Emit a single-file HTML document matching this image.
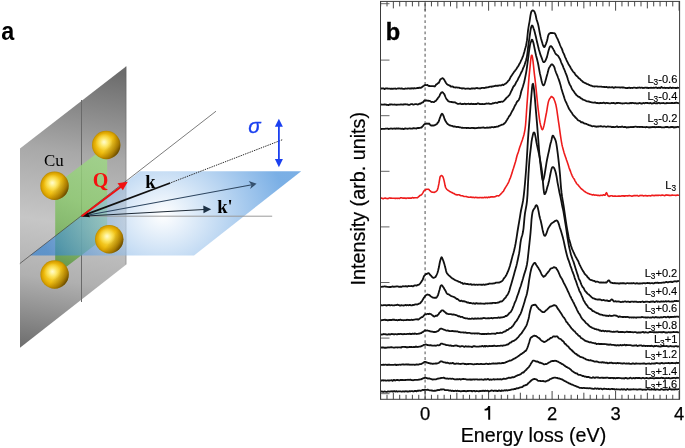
<!DOCTYPE html>
<html><head><meta charset="utf-8"><style>
html,body{margin:0;padding:0;background:#fff;}
svg{display:block;font-family:"Liberation Sans",sans-serif;will-change:transform;}
</style></head><body>
<svg width="685" height="448" viewBox="0 0 685 448">
<rect width="685" height="448" fill="#fff"/>
<defs>
<linearGradient id="gray" gradientUnits="userSpaceOnUse" x1="73" y1="66" x2="31" y2="348">
<stop offset="0" stop-color="#6c6c6c"/><stop offset="0.3" stop-color="#a8a8a8"/><stop offset="0.55" stop-color="#c6c6c6"/><stop offset="0.75" stop-color="#b0b0b0"/><stop offset="1" stop-color="#6e6e6e"/>
</linearGradient>
<radialGradient id="blue" gradientUnits="userSpaceOnUse" cx="163" cy="215" r="124" gradientTransform="translate(163 215) scale(1 0.83) translate(-163 -215)">
<stop offset="0" stop-color="#ffffff"/><stop offset="1" stop-color="#227ad4"/>
</radialGradient>
<radialGradient id="gold" cx="0.5" cy="0.5" r="0.5" fx="0.42" fy="0.4">
<stop offset="0" stop-color="#fff6b0"/><stop offset="0.3" stop-color="#f9d840"/><stop offset="0.65" stop-color="#efbe12"/><stop offset="0.88" stop-color="#daa200"/><stop offset="1" stop-color="#b88a00"/>
</radialGradient>
<linearGradient id="goldshade" x1="0.1" y1="0.2" x2="1" y2="0.8">
<stop offset="0" stop-color="#5a3c00" stop-opacity="0"/><stop offset="0.5" stop-color="#5a3c00" stop-opacity="0"/><stop offset="0.78" stop-color="#5a3c00" stop-opacity="0.4"/><stop offset="1" stop-color="#2c1e00" stop-opacity="0.85"/>
</linearGradient>
<radialGradient id="goldhl" cx="0.5" cy="0.5" r="0.5">
<stop offset="0" stop-color="#fffbd0" stop-opacity="0.9"/><stop offset="0.45" stop-color="#fff490" stop-opacity="0.55"/><stop offset="1" stop-color="#ffec70" stop-opacity="0"/>
</radialGradient>
<linearGradient id="green" gradientUnits="userSpaceOnUse" x1="107" y1="145" x2="55" y2="275">
<stop offset="0" stop-color="#a4dc8c"/><stop offset="0.45" stop-color="#8cca6e"/><stop offset="0.8" stop-color="#6aa84e"/><stop offset="1" stop-color="#46842c"/>
</linearGradient>
<marker id="ahk" viewBox="0 0 10 10" refX="9" refY="5" markerWidth="9" markerHeight="8" markerUnits="userSpaceOnUse" orient="auto"><path d="M0 0 L10 5 L0 10 Z" fill="#111"/></marker>
</defs>
<polygon points="20,148.5 126.3,66.3 126.3,264.4 20,347.8" fill="url(#gray)"/>
<line x1="126" y1="66.5" x2="126" y2="264.4" stroke="#555" stroke-width="0.6" opacity="0.6"/>
<line x1="81.5" y1="100" x2="81.5" y2="302" stroke="#6a6a6a" stroke-width="1"/>
<polygon points="55.2,185.1 107.2,145.6 107.2,235.7 55.2,275.2" fill="url(#green)" opacity="0.82"/>
<polygon points="140,171.2 301.2,171.2 194,255.6 30,255.6" fill="url(#blue)" opacity="0.6"/>
<line x1="19.8" y1="263.6" x2="216" y2="111.2" stroke="#444" stroke-width="0.7"/>
<line x1="81.6" y1="216.2" x2="272.2" y2="216.2" stroke="#9a9a9a" stroke-width="1"/>
<line x1="81.6" y1="216.2" x2="252" y2="184.8" stroke="#2e4660" stroke-width="1.1"/>
<polygon points="256.6,183.7 248.7,180.9 251.5,184.9 250.1,189" fill="#34506e"/>
<line x1="81.6" y1="216.2" x2="204" y2="209.5" stroke="#1e2a36" stroke-width="1.1"/>
<polygon points="211.2,209.3 203.3,205.4 203.5,213.2" fill="#1c3044"/>
<line x1="282.2" y1="139.8" x2="170.2" y2="183" stroke="#2a2a2a" stroke-width="1" stroke-dasharray="1.4 1"/>
<line x1="170.2" y1="183" x2="87.6" y2="213.9" stroke="#111" stroke-width="1.7"/>
<polygon points="81.5,216.2 87.6,211.8 88.4,214.2 90,217.3" fill="#0a0a0a"/>
<line x1="81.6" y1="216.2" x2="122" y2="186" stroke="#f01010" stroke-width="2"/>
<polygon points="127.8,181.8 117.5,183.2 122.8,190.2" fill="#f01010"/>
<circle cx="54.5" cy="185.8" r="14.2" fill="url(#gold)"/>
<circle cx="54.5" cy="185.8" r="14.2" fill="url(#goldshade)"/>
<circle cx="52.3" cy="182.8" r="8.5" fill="url(#goldhl)"/>
<circle cx="106.2" cy="145" r="14.2" fill="url(#gold)"/>
<circle cx="106.2" cy="145" r="14.2" fill="url(#goldshade)"/>
<circle cx="104.0" cy="142.0" r="8.5" fill="url(#goldhl)"/>
<circle cx="109.2" cy="239.2" r="14.2" fill="url(#gold)"/>
<circle cx="109.2" cy="239.2" r="14.2" fill="url(#goldshade)"/>
<circle cx="107.0" cy="236.2" r="8.5" fill="url(#goldhl)"/>
<circle cx="54.6" cy="274.5" r="14.2" fill="url(#gold)"/>
<circle cx="54.6" cy="274.5" r="14.2" fill="url(#goldshade)"/>
<circle cx="52.4" cy="271.5" r="8.5" fill="url(#goldhl)"/>
<line x1="278.9" y1="124" x2="278.9" y2="162" stroke="#1b40f0" stroke-width="1.8"/>
<polygon points="278.9,118.7 274.9,126.8 282.9,126.8" fill="#1b40f0"/>
<polygon points="278.9,167.2 274.9,159 282.9,159" fill="#1b40f0"/>
<text x="0" y="0" transform="translate(1.2 39.8) scale(0.9 1.02)" font-family="Liberation Sans" font-weight="bold" font-size="26">a</text>
<text x="43.9" y="165.6" font-family="Liberation Serif" font-size="16.9">Cu</text>
<text x="92.7" y="186.7" font-family="Liberation Serif" font-weight="bold" font-size="20" fill="#f41010">Q</text>
<text x="145.3" y="187.5" font-family="Liberation Serif" font-weight="bold" font-size="18.5">k</text>
<text x="217.2" y="212.9" font-family="Liberation Serif" font-weight="bold" font-size="18.5">k'</text>
<text x="248.3" y="133.3" font-family="Liberation Sans" font-style="italic" font-size="20.5" fill="#1b40f0" stroke="#1b40f0" stroke-width="0.3">σ</text>
<line x1="425.1" y1="1.4" x2="425.1" y2="399.3" stroke="#777" stroke-width="1.3" stroke-dasharray="2.9 2.715" stroke-dashoffset="3.69"/>
<path d="M380.65 1.4 V6.4 M380.65 399.3 V394.8 M387.00 1.4 V6.4 M387.00 399.3 V394.8 M393.35 1.4 V8.4 M393.35 399.3 V392.7 M399.70 1.4 V6.4 M399.70 399.3 V394.8 M406.05 1.4 V6.4 M406.05 399.3 V394.8 M412.40 1.4 V6.4 M412.40 399.3 V394.8 M418.75 1.4 V6.4 M418.75 399.3 V394.8 M425.10 1.4 V10.7 M425.10 399.3 V391.0 M431.45 1.4 V6.4 M431.45 399.3 V394.8 M437.80 1.4 V6.4 M437.80 399.3 V394.8 M444.15 1.4 V6.4 M444.15 399.3 V394.8 M450.50 1.4 V6.4 M450.50 399.3 V394.8 M456.85 1.4 V8.4 M456.85 399.3 V392.7 M463.20 1.4 V6.4 M463.20 399.3 V394.8 M469.55 1.4 V6.4 M469.55 399.3 V394.8 M475.90 1.4 V6.4 M475.90 399.3 V394.8 M482.25 1.4 V6.4 M482.25 399.3 V394.8 M488.60 1.4 V10.7 M488.60 399.3 V391.0 M494.95 1.4 V6.4 M494.95 399.3 V394.8 M501.30 1.4 V6.4 M501.30 399.3 V394.8 M507.65 1.4 V6.4 M507.65 399.3 V394.8 M514.00 1.4 V6.4 M514.00 399.3 V394.8 M520.35 1.4 V8.4 M520.35 399.3 V392.7 M526.70 1.4 V6.4 M526.70 399.3 V394.8 M533.05 1.4 V6.4 M533.05 399.3 V394.8 M539.40 1.4 V6.4 M539.40 399.3 V394.8 M545.75 1.4 V6.4 M545.75 399.3 V394.8 M552.10 1.4 V10.7 M552.10 399.3 V391.0 M558.45 1.4 V6.4 M558.45 399.3 V394.8 M564.80 1.4 V6.4 M564.80 399.3 V394.8 M571.15 1.4 V6.4 M571.15 399.3 V394.8 M577.50 1.4 V6.4 M577.50 399.3 V394.8 M583.85 1.4 V8.4 M583.85 399.3 V392.7 M590.20 1.4 V6.4 M590.20 399.3 V394.8 M596.55 1.4 V6.4 M596.55 399.3 V394.8 M602.90 1.4 V6.4 M602.90 399.3 V394.8 M609.25 1.4 V6.4 M609.25 399.3 V394.8 M615.60 1.4 V10.7 M615.60 399.3 V391.0 M621.95 1.4 V6.4 M621.95 399.3 V394.8 M628.30 1.4 V6.4 M628.30 399.3 V394.8 M634.65 1.4 V6.4 M634.65 399.3 V394.8 M641.00 1.4 V6.4 M641.00 399.3 V394.8 M647.35 1.4 V8.4 M647.35 399.3 V392.7 M653.70 1.4 V6.4 M653.70 399.3 V394.8 M660.05 1.4 V6.4 M660.05 399.3 V394.8 M666.40 1.4 V6.4 M666.40 399.3 V394.8 M672.75 1.4 V6.4 M672.75 399.3 V394.8 M679.10 1.4 V10.7 M679.10 399.3 V391.0" stroke="#333" stroke-width="0.9" fill="none"/>
<path d="M380.5 3.7 H389.5 M380.5 60.1 H389.5 M380.5 115.7 H389.5 M380.5 171.3 H389.5 M380.5 226.9 H389.5 M380.5 282.5 H389.5 M380.5 338.1 H389.5 M380.5 393.7 H389.5" stroke="#555" stroke-width="0.9" fill="none"/>
<path d="M380.5 88.4 L381.0 88.4 L381.5 88.5 L382.0 88.5 L382.5 88.4 L383.0 88.3 L383.5 88.3 L384.0 88.7 L384.5 89.1 L385.0 88.9 L385.5 88.5 L386.0 88.5 L386.5 88.4 L387.0 88.4 L387.5 88.5 L388.0 88.6 L388.5 88.7 L389.0 88.7 L389.5 88.6 L390.0 88.7 L390.5 88.9 L391.0 88.8 L391.5 88.6 L392.0 88.6 L392.5 88.8 L393.0 88.9 L393.5 88.7 L394.0 88.6 L394.5 88.7 L395.0 88.5 L395.5 88.6 L396.0 88.8 L396.5 88.8 L397.0 88.7 L397.5 88.5 L398.0 88.3 L398.5 88.5 L399.0 88.4 L399.5 88.3 L400.0 88.6 L400.5 88.7 L401.0 88.5 L401.5 88.4 L402.0 88.5 L402.5 88.7 L403.0 88.9 L403.5 88.8 L404.0 88.8 L404.5 88.8 L405.0 88.6 L405.5 88.5 L406.0 88.7 L406.5 88.7 L407.0 88.6 L407.5 88.5 L408.0 88.4 L408.5 88.3 L409.0 88.6 L409.5 88.6 L410.0 88.4 L410.5 88.4 L411.0 88.5 L411.5 88.5 L412.0 88.2 L412.5 88.3 L413.0 88.6 L413.5 88.5 L414.0 88.2 L414.5 88.2 L415.0 88.3 L415.5 88.3 L416.0 88.3 L416.5 88.2 L417.0 88.0 L417.5 88.0 L418.0 88.1 L418.5 88.0 L419.0 87.7 L419.5 87.6 L420.0 87.8 L420.5 87.8 L421.0 87.6 L421.5 87.5 L422.0 87.1 L422.5 86.7 L423.0 86.3 L423.5 86.0 L424.0 85.7 L424.5 85.2 L425.0 84.9 L425.5 85.0 L426.0 85.2 L426.5 85.2 L427.0 85.0 L427.5 85.0 L428.0 85.5 L428.5 85.9 L429.0 86.0 L429.5 86.0 L430.0 86.1 L430.5 86.2 L431.0 86.2 L431.5 86.2 L432.0 86.1 L432.5 86.1 L433.0 86.2 L433.5 86.2 L434.0 86.3 L434.5 86.5 L435.0 86.3 L435.5 85.6 L436.0 84.7 L436.5 84.3 L437.0 84.1 L437.5 83.7 L438.0 83.2 L438.5 83.0 L439.0 82.5 L439.5 81.3 L440.0 80.1 L440.5 79.3 L441.0 79.0 L441.5 78.7 L442.0 78.4 L442.5 78.2 L443.0 78.3 L443.5 78.8 L444.0 79.5 L444.5 80.2 L445.0 81.2 L445.5 82.1 L446.0 82.9 L446.5 83.6 L447.0 84.3 L447.5 84.6 L448.0 84.8 L448.5 85.0 L449.0 85.4 L449.5 85.5 L450.0 85.7 L450.5 86.3 L451.0 86.7 L451.5 86.6 L452.0 86.5 L452.5 86.5 L453.0 86.7 L453.5 87.1 L454.0 87.3 L454.5 87.3 L455.0 87.4 L455.5 87.5 L456.0 87.4 L456.5 87.3 L457.0 87.5 L457.5 87.6 L458.0 87.6 L458.5 87.6 L459.0 87.7 L459.5 87.9 L460.0 88.1 L460.5 88.1 L461.0 88.2 L461.5 88.4 L462.0 88.5 L462.5 88.5 L463.0 88.2 L463.5 88.3 L464.0 88.4 L464.5 88.5 L465.0 88.7 L465.5 88.8 L466.0 88.7 L466.5 88.7 L467.0 88.7 L467.5 88.6 L468.0 88.5 L468.5 88.6 L469.0 88.6 L469.5 88.8 L470.0 88.9 L470.5 88.9 L471.0 88.6 L471.5 88.4 L472.0 88.5 L472.5 88.5 L473.0 88.4 L473.5 88.4 L474.0 88.5 L474.5 88.6 L475.0 88.5 L475.5 88.4 L476.0 88.2 L476.5 88.1 L477.0 88.0 L477.5 88.1 L478.0 88.3 L478.5 88.4 L479.0 88.4 L479.5 88.4 L480.0 88.5 L480.5 88.4 L481.0 88.2 L481.5 88.0 L482.0 87.9 L482.5 87.9 L483.0 87.8 L483.5 87.9 L484.0 88.0 L484.5 88.0 L485.0 87.8 L485.5 87.6 L486.0 87.5 L486.5 87.5 L487.0 87.4 L487.5 87.3 L488.0 87.3 L488.5 87.1 L489.0 87.0 L489.5 86.8 L490.0 86.6 L490.5 86.6 L491.0 86.7 L491.5 86.9 L492.0 86.7 L492.5 86.3 L493.0 86.3 L493.5 86.3 L494.0 86.1 L494.5 86.1 L495.0 85.9 L495.5 85.7 L496.0 85.8 L496.5 85.9 L497.0 85.7 L497.5 85.6 L498.0 85.8 L498.5 85.7 L499.0 85.4 L499.5 85.3 L500.0 85.3 L500.5 85.4 L501.0 85.5 L501.5 85.2 L502.0 84.9 L502.5 84.7 L503.0 84.9 L503.5 85.0 L504.0 84.6 L504.5 84.2 L505.0 83.9 L505.5 83.7 L506.0 83.4 L506.5 82.8 L507.0 82.3 L507.5 81.8 L508.0 81.2 L508.5 80.7 L509.0 80.2 L509.5 79.4 L510.0 78.3 L510.5 77.3 L511.0 76.4 L511.5 75.7 L512.0 75.0 L512.5 74.2 L513.0 73.5 L513.5 72.8 L514.0 72.0 L514.5 71.4 L515.0 70.8 L515.5 70.1 L516.0 69.5 L516.5 68.8 L517.0 67.9 L517.5 67.1 L518.0 66.5 L518.5 65.8 L519.0 64.7 L519.5 63.7 L520.0 62.9 L520.5 61.8 L521.0 60.6 L521.5 59.7 L522.0 58.6 L522.5 57.3 L523.0 56.1 L523.5 54.6 L524.0 52.9 L524.5 51.2 L525.0 49.3 L525.5 47.6 L526.0 45.7 L526.5 43.1 L527.0 40.2 L527.5 35.6 L528.0 30.6 L528.5 27.3 L529.0 24.4 L529.5 21.8 L530.0 18.5 L530.5 15.2 L531.0 12.8 L531.5 11.3 L532.0 10.8 L532.5 10.3 L533.0 10.4 L533.5 10.8 L534.0 11.1 L534.5 11.8 L535.0 13.1 L535.5 14.5 L536.0 16.8 L536.5 19.2 L537.0 20.7 L537.5 22.2 L538.0 23.9 L538.5 26.1 L539.0 28.7 L539.5 31.5 L540.0 34.0 L540.5 36.4 L541.0 38.4 L541.5 40.2 L542.0 41.9 L542.5 43.6 L543.0 45.1 L543.5 46.3 L544.0 47.0 L544.5 47.1 L545.0 46.3 L545.5 45.0 L546.0 43.8 L546.5 42.4 L547.0 40.8 L547.5 38.7 L548.0 36.3 L548.5 34.8 L549.0 34.0 L549.5 33.5 L550.0 33.4 L550.5 33.0 L551.0 32.9 L551.5 33.0 L552.0 32.9 L552.5 33.0 L553.0 33.2 L553.5 33.2 L554.0 33.1 L554.5 33.3 L555.0 33.7 L555.5 34.5 L556.0 35.6 L556.5 36.8 L557.0 37.9 L557.5 38.8 L558.0 39.8 L558.5 41.1 L559.0 42.3 L559.5 43.5 L560.0 44.8 L560.5 46.0 L561.0 47.1 L561.5 48.1 L562.0 49.1 L562.5 50.6 L563.0 52.1 L563.5 53.2 L564.0 54.2 L564.5 55.4 L565.0 56.8 L565.5 57.9 L566.0 58.9 L566.5 60.1 L567.0 61.2 L567.5 62.1 L568.0 63.1 L568.5 64.2 L569.0 65.1 L569.5 65.8 L570.0 66.5 L570.5 67.5 L571.0 68.4 L571.5 69.2 L572.0 70.0 L572.5 70.8 L573.0 71.5 L573.5 72.1 L574.0 72.5 L574.5 73.0 L575.0 73.9 L575.5 74.7 L576.0 75.3 L576.5 75.8 L577.0 76.2 L577.5 76.6 L578.0 77.3 L578.5 78.0 L579.0 78.4 L579.5 78.6 L580.0 78.9 L580.5 79.6 L581.0 80.3 L581.5 80.6 L582.0 80.9 L582.5 81.5 L583.0 82.0 L583.5 82.2 L584.0 82.5 L584.5 82.8 L585.0 83.1 L585.5 83.2 L586.0 83.4 L586.5 83.8 L587.0 84.1 L587.5 84.2 L588.0 84.2 L588.5 84.6 L589.0 84.9 L589.5 85.0 L590.0 85.3 L590.5 85.6 L591.0 85.7 L591.5 85.7 L592.0 85.9 L592.5 86.2 L593.0 86.4 L593.5 86.4 L594.0 86.4 L594.5 86.5 L595.0 86.5 L595.5 86.3 L596.0 86.3 L596.5 86.4 L597.0 86.4 L597.5 86.5 L598.0 86.7 L598.5 86.7 L599.0 86.7 L599.5 86.7 L600.0 86.6 L600.5 86.7 L601.0 86.6 L601.5 86.6 L602.0 86.9 L602.5 86.9 L603.0 86.8 L603.5 86.9 L604.0 87.0 L604.5 87.0 L605.0 87.1 L605.5 87.1 L606.0 87.0 L606.5 86.9 L607.0 87.1 L607.5 87.3 L608.0 87.5 L608.5 87.4 L609.0 87.2 L609.5 87.2 L610.0 87.3 L610.5 87.3 L611.0 87.4 L611.5 87.4 L612.0 87.2 L612.5 87.2 L613.0 87.4 L613.5 87.8 L614.0 87.9 L614.5 87.5 L615.0 87.2 L615.5 87.1 L616.0 87.3 L616.5 87.4 L617.0 87.3 L617.5 87.4 L618.0 87.3 L618.5 87.4 L619.0 87.4 L619.5 87.4 L620.0 87.6 L620.5 87.7 L621.0 87.3 L621.5 87.3 L622.0 87.6 L622.5 87.5 L623.0 87.4 L623.5 87.5 L624.0 87.6 L624.5 87.7 L625.0 87.8 L625.5 87.9 L626.0 88.1 L626.5 88.1 L627.0 88.0 L627.5 88.0 L628.0 88.0 L628.5 87.8 L629.0 87.6 L629.5 87.7 L630.0 87.9 L630.5 88.0 L631.0 87.9 L631.5 87.8 L632.0 87.9 L632.5 88.0 L633.0 87.8 L633.5 87.7 L634.0 87.7 L634.5 87.7 L635.0 87.7 L635.5 87.8 L636.0 87.9 L636.5 88.0 L637.0 87.8 L637.5 87.7 L638.0 87.8 L638.5 87.7 L639.0 87.6 L639.5 87.5 L640.0 87.7 L640.5 87.8 L641.0 87.7 L641.5 87.6 L642.0 87.6 L642.5 87.9 L643.0 88.0 L643.5 87.9 L644.0 87.8 L644.5 87.8 L645.0 87.6 L645.5 87.6 L646.0 87.7 L646.5 87.8 L647.0 87.7 L647.5 87.7 L648.0 88.0 L648.5 88.1 L649.0 87.9 L649.5 87.8 L650.0 87.9 L650.5 87.8 L651.0 87.7 L651.5 87.9 L652.0 87.9 L652.5 87.9 L653.0 87.9 L653.5 87.7 L654.0 87.8 L654.5 87.8 L655.0 87.7 L655.5 87.6 L656.0 87.5 L656.5 87.6 L657.0 87.9 L657.5 88.0 L658.0 87.9 L658.5 87.9 L659.0 87.7 L659.5 87.8 L660.0 88.1 L660.5 87.9 L661.0 87.3 L661.5 87.0 L662.0 87.5 L662.5 87.8 L663.0 87.8 L663.5 87.8 L664.0 87.8 L664.5 87.7 L665.0 87.8 L665.5 88.0 L666.0 88.0 L666.5 87.8 L667.0 87.8 L667.5 87.8 L668.0 87.9 L668.5 88.2 L669.0 88.2 L669.5 87.7 L670.0 87.4 L670.5 87.6 L671.0 87.9 L671.5 88.1 L672.0 88.0 L672.5 87.7 L673.0 87.7 L673.5 87.8 L674.0 87.8 L674.5 87.9 L675.0 87.9 L675.5 88.0 L676.0 88.0 L676.5 88.0 L677.0 87.9 L677.5 87.7 L678.0 87.8 L678.5 87.8 L679.0 87.9" fill="none" stroke="#111" stroke-width="1.8" stroke-linejoin="round"/>
<path d="M380.5 104.4 L381.0 104.4 L381.5 104.6 L382.0 104.6 L382.5 104.6 L383.0 104.7 L383.5 104.7 L384.0 104.5 L384.5 104.4 L385.0 104.6 L385.5 104.6 L386.0 104.5 L386.5 104.8 L387.0 105.0 L387.5 104.8 L388.0 104.9 L388.5 105.1 L389.0 104.9 L389.5 104.5 L390.0 104.5 L390.5 104.6 L391.0 104.4 L391.5 104.3 L392.0 104.5 L392.5 104.6 L393.0 104.6 L393.5 104.6 L394.0 104.7 L394.5 104.5 L395.0 104.5 L395.5 104.7 L396.0 104.8 L396.5 104.7 L397.0 104.8 L397.5 104.7 L398.0 104.6 L398.5 104.7 L399.0 104.6 L399.5 104.6 L400.0 104.6 L400.5 104.5 L401.0 104.3 L401.5 104.4 L402.0 104.7 L402.5 104.7 L403.0 104.5 L403.5 104.5 L404.0 104.5 L404.5 104.3 L405.0 104.2 L405.5 104.4 L406.0 104.3 L406.5 104.4 L407.0 104.4 L407.5 104.5 L408.0 104.6 L408.5 104.8 L409.0 104.9 L409.5 104.8 L410.0 104.6 L410.5 104.3 L411.0 104.2 L411.5 104.1 L412.0 104.1 L412.5 104.2 L413.0 104.6 L413.5 104.7 L414.0 104.5 L414.5 104.3 L415.0 104.2 L415.5 104.2 L416.0 104.2 L416.5 104.2 L417.0 104.3 L417.5 104.5 L418.0 104.4 L418.5 104.3 L419.0 103.9 L419.5 103.7 L420.0 103.9 L420.5 103.7 L421.0 103.3 L421.5 102.9 L422.0 102.6 L422.5 102.5 L423.0 102.3 L423.5 101.7 L424.0 101.0 L424.5 100.5 L425.0 100.5 L425.5 100.6 L426.0 100.6 L426.5 100.4 L427.0 100.5 L427.5 100.7 L428.0 100.8 L428.5 100.7 L429.0 100.8 L429.5 100.8 L430.0 101.1 L430.5 101.4 L431.0 101.7 L431.5 102.0 L432.0 101.9 L432.5 101.8 L433.0 102.0 L433.5 102.2 L434.0 102.1 L434.5 101.6 L435.0 101.2 L435.5 101.1 L436.0 100.7 L436.5 100.0 L437.0 99.4 L437.5 98.8 L438.0 97.8 L438.5 97.3 L439.0 96.9 L439.5 95.9 L440.0 94.6 L440.5 93.7 L441.0 93.0 L441.5 92.5 L442.0 92.2 L442.5 92.2 L443.0 92.6 L443.5 93.3 L444.0 93.8 L444.5 94.6 L445.0 95.8 L445.5 97.0 L446.0 98.1 L446.5 99.0 L447.0 99.6 L447.5 100.2 L448.0 100.8 L448.5 101.3 L449.0 101.6 L449.5 101.7 L450.0 101.8 L450.5 101.8 L451.0 101.9 L451.5 102.0 L452.0 102.0 L452.5 102.2 L453.0 102.4 L453.5 102.3 L454.0 102.2 L454.5 102.3 L455.0 102.4 L455.5 102.6 L456.0 102.9 L456.5 103.2 L457.0 103.5 L457.5 103.8 L458.0 103.9 L458.5 103.9 L459.0 103.8 L459.5 103.7 L460.0 103.6 L460.5 103.5 L461.0 103.9 L461.5 104.2 L462.0 104.1 L462.5 104.0 L463.0 104.1 L463.5 104.0 L464.0 103.8 L464.5 103.7 L465.0 103.7 L465.5 104.0 L466.0 104.3 L466.5 104.0 L467.0 103.8 L467.5 103.8 L468.0 103.8 L468.5 103.7 L469.0 103.9 L469.5 104.1 L470.0 104.1 L470.5 104.0 L471.0 103.7 L471.5 103.7 L472.0 104.1 L472.5 104.1 L473.0 103.9 L473.5 103.9 L474.0 104.1 L474.5 104.1 L475.0 104.0 L475.5 104.0 L476.0 104.0 L476.5 104.0 L477.0 103.9 L477.5 103.5 L478.0 103.4 L478.5 103.5 L479.0 103.7 L479.5 104.0 L480.0 104.1 L480.5 104.1 L481.0 104.0 L481.5 104.1 L482.0 104.1 L482.5 104.0 L483.0 104.1 L483.5 104.1 L484.0 104.1 L484.5 104.1 L485.0 103.9 L485.5 103.9 L486.0 103.7 L486.5 103.5 L487.0 103.6 L487.5 103.6 L488.0 103.6 L488.5 103.5 L489.0 103.5 L489.5 103.8 L490.0 103.9 L490.5 103.8 L491.0 103.8 L491.5 103.8 L492.0 103.7 L492.5 103.4 L493.0 103.2 L493.5 103.3 L494.0 103.2 L494.5 102.9 L495.0 102.8 L495.5 102.7 L496.0 102.7 L496.5 102.8 L497.0 103.0 L497.5 102.8 L498.0 102.3 L498.5 102.1 L499.0 102.0 L499.5 101.9 L500.0 102.0 L500.5 102.0 L501.0 101.7 L501.5 101.6 L502.0 101.7 L502.5 101.8 L503.0 101.5 L503.5 101.1 L504.0 100.7 L504.5 100.2 L505.0 99.6 L505.5 99.0 L506.0 98.5 L506.5 97.8 L507.0 97.3 L507.5 97.0 L508.0 96.6 L508.5 95.9 L509.0 95.4 L509.5 94.8 L510.0 93.9 L510.5 92.8 L511.0 91.7 L511.5 90.7 L512.0 89.8 L512.5 88.7 L513.0 87.4 L513.5 86.5 L514.0 86.0 L514.5 85.5 L515.0 84.7 L515.5 83.8 L516.0 82.7 L516.5 81.7 L517.0 81.0 L517.5 80.2 L518.0 79.1 L518.5 78.0 L519.0 77.1 L519.5 76.2 L520.0 75.2 L520.5 74.1 L521.0 73.0 L521.5 72.0 L522.0 71.1 L522.5 69.9 L523.0 68.6 L523.5 67.4 L524.0 66.3 L524.5 65.1 L525.0 63.5 L525.5 61.9 L526.0 60.5 L526.5 58.6 L527.0 56.1 L527.5 52.5 L528.0 48.2 L528.5 44.4 L529.0 40.8 L529.5 37.3 L530.0 33.8 L530.5 30.2 L531.0 27.8 L531.5 26.2 L532.0 25.4 L532.5 25.7 L533.0 26.9 L533.5 28.3 L534.0 29.6 L534.5 31.3 L535.0 33.3 L535.5 35.3 L536.0 37.3 L536.5 39.6 L537.0 41.7 L537.5 43.7 L538.0 45.9 L538.5 48.1 L539.0 50.0 L539.5 51.5 L540.0 53.2 L540.5 54.9 L541.0 56.2 L541.5 57.4 L542.0 58.8 L542.5 60.2 L543.0 61.5 L543.5 62.1 L544.0 62.1 L544.5 61.9 L545.0 61.4 L545.5 60.5 L546.0 59.3 L546.5 58.2 L547.0 56.9 L547.5 54.9 L548.0 52.7 L548.5 50.8 L549.0 49.2 L549.5 47.5 L550.0 46.6 L550.5 46.1 L551.0 46.1 L551.5 46.4 L552.0 47.1 L552.5 47.9 L553.0 48.6 L553.5 49.6 L554.0 50.5 L554.5 51.5 L555.0 52.6 L555.5 53.6 L556.0 54.2 L556.5 54.6 L557.0 55.0 L557.5 55.4 L558.0 55.8 L558.5 56.5 L559.0 57.4 L559.5 58.3 L560.0 59.1 L560.5 60.3 L561.0 61.8 L561.5 63.1 L562.0 64.1 L562.5 65.2 L563.0 66.4 L563.5 67.8 L564.0 68.9 L564.5 70.0 L565.0 71.3 L565.5 72.6 L566.0 73.8 L566.5 75.1 L567.0 76.4 L567.5 78.0 L568.0 79.7 L568.5 81.2 L569.0 82.6 L569.5 84.0 L570.0 84.9 L570.5 85.7 L571.0 86.7 L571.5 87.9 L572.0 88.9 L572.5 89.7 L573.0 90.4 L573.5 91.0 L574.0 91.7 L574.5 92.5 L575.0 93.3 L575.5 93.8 L576.0 94.4 L576.5 95.2 L577.0 95.5 L577.5 95.9 L578.0 96.5 L578.5 96.9 L579.0 96.9 L579.5 96.9 L580.0 97.5 L580.5 98.1 L581.0 98.3 L581.5 98.4 L582.0 98.7 L582.5 99.4 L583.0 99.7 L583.5 99.7 L584.0 100.0 L584.5 100.2 L585.0 100.3 L585.5 100.5 L586.0 100.9 L586.5 101.2 L587.0 101.3 L587.5 101.3 L588.0 101.4 L588.5 101.5 L589.0 101.5 L589.5 101.7 L590.0 102.0 L590.5 102.1 L591.0 102.2 L591.5 102.3 L592.0 102.3 L592.5 102.5 L593.0 102.7 L593.5 102.7 L594.0 102.7 L594.5 102.5 L595.0 102.4 L595.5 102.6 L596.0 102.8 L596.5 103.0 L597.0 103.0 L597.5 102.9 L598.0 103.0 L598.5 103.2 L599.0 103.3 L599.5 103.1 L600.0 103.0 L600.5 103.0 L601.0 103.0 L601.5 103.1 L602.0 103.1 L602.5 103.0 L603.0 102.8 L603.5 102.6 L604.0 102.6 L604.5 103.0 L605.0 103.3 L605.5 103.3 L606.0 102.9 L606.5 102.8 L607.0 103.1 L607.5 103.1 L608.0 103.0 L608.5 103.2 L609.0 103.3 L609.5 103.3 L610.0 103.3 L610.5 103.3 L611.0 103.2 L611.5 103.0 L612.0 103.0 L612.5 103.1 L613.0 103.1 L613.5 102.9 L614.0 102.9 L614.5 103.2 L615.0 103.5 L615.5 103.5 L616.0 103.3 L616.5 103.0 L617.0 102.9 L617.5 103.0 L618.0 103.0 L618.5 102.8 L619.0 103.0 L619.5 103.1 L620.0 103.1 L620.5 103.2 L621.0 103.4 L621.5 103.4 L622.0 103.4 L622.5 103.5 L623.0 103.4 L623.5 103.3 L624.0 103.3 L624.5 103.3 L625.0 103.2 L625.5 103.1 L626.0 103.2 L626.5 103.2 L627.0 103.3 L627.5 103.4 L628.0 103.3 L628.5 103.3 L629.0 103.4 L629.5 103.3 L630.0 102.9 L630.5 103.0 L631.0 103.3 L631.5 103.2 L632.0 102.8 L632.5 102.8 L633.0 103.0 L633.5 103.1 L634.0 103.2 L634.5 103.3 L635.0 103.2 L635.5 103.1 L636.0 103.4 L636.5 103.5 L637.0 103.3 L637.5 103.4 L638.0 103.5 L638.5 103.4 L639.0 103.2 L639.5 103.0 L640.0 103.0 L640.5 103.3 L641.0 103.5 L641.5 103.5 L642.0 103.5 L642.5 103.4 L643.0 103.1 L643.5 103.0 L644.0 103.2 L644.5 103.3 L645.0 103.1 L645.5 102.9 L646.0 102.9 L646.5 102.9 L647.0 103.0 L647.5 103.0 L648.0 103.1 L648.5 103.2 L649.0 103.3 L649.5 103.3 L650.0 103.0 L650.5 102.9 L651.0 103.3 L651.5 103.6 L652.0 103.5 L652.5 103.4 L653.0 103.3 L653.5 103.1 L654.0 103.0 L654.5 103.0 L655.0 103.2 L655.5 103.3 L656.0 103.3 L656.5 103.1 L657.0 103.1 L657.5 103.3 L658.0 103.1 L658.5 102.8 L659.0 102.8 L659.5 103.1 L660.0 103.4 L660.5 103.4 L661.0 103.2 L661.5 103.2 L662.0 103.2 L662.5 103.2 L663.0 103.0 L663.5 103.0 L664.0 103.2 L664.5 103.3 L665.0 103.3 L665.5 103.4 L666.0 103.4 L666.5 103.1 L667.0 102.9 L667.5 103.2 L668.0 103.2 L668.5 103.1 L669.0 103.1 L669.5 103.1 L670.0 103.1 L670.5 103.1 L671.0 103.1 L671.5 102.9 L672.0 102.9 L672.5 103.0 L673.0 103.1 L673.5 103.1 L674.0 103.1 L674.5 103.0 L675.0 103.0 L675.5 102.9 L676.0 102.7 L676.5 102.7 L677.0 102.8 L677.5 102.9 L678.0 103.1 L678.5 103.2 L679.0 103.3" fill="none" stroke="#111" stroke-width="1.8" stroke-linejoin="round"/>
<path d="M380.5 128.9 L381.0 129.0 L381.5 129.0 L382.0 128.8 L382.5 128.8 L383.0 128.9 L383.5 128.9 L384.0 128.9 L384.5 128.9 L385.0 128.8 L385.5 128.7 L386.0 128.7 L386.5 128.7 L387.0 128.7 L387.5 128.5 L388.0 128.7 L388.5 129.0 L389.0 128.9 L389.5 128.8 L390.0 128.7 L390.5 128.6 L391.0 128.5 L391.5 128.6 L392.0 128.7 L392.5 128.8 L393.0 128.7 L393.5 128.7 L394.0 128.5 L394.5 128.5 L395.0 128.7 L395.5 128.8 L396.0 128.5 L396.5 128.4 L397.0 128.6 L397.5 128.6 L398.0 128.4 L398.5 128.4 L399.0 128.5 L399.5 128.7 L400.0 128.7 L400.5 128.7 L401.0 128.9 L401.5 128.8 L402.0 128.7 L402.5 128.7 L403.0 128.9 L403.5 129.1 L404.0 129.0 L404.5 128.6 L405.0 128.5 L405.5 128.5 L406.0 128.6 L406.5 128.7 L407.0 128.7 L407.5 128.8 L408.0 128.7 L408.5 128.7 L409.0 128.6 L409.5 128.3 L410.0 128.4 L410.5 128.6 L411.0 128.6 L411.5 128.6 L412.0 128.6 L412.5 128.5 L413.0 128.4 L413.5 128.1 L414.0 128.2 L414.5 128.4 L415.0 128.3 L415.5 128.3 L416.0 128.6 L416.5 128.5 L417.0 128.2 L417.5 128.0 L418.0 128.0 L418.5 127.9 L419.0 128.0 L419.5 127.9 L420.0 127.8 L420.5 127.7 L421.0 127.6 L421.5 127.5 L422.0 127.0 L422.5 126.4 L423.0 126.0 L423.5 125.3 L424.0 124.6 L424.5 124.3 L425.0 123.9 L425.5 123.9 L426.0 123.9 L426.5 123.6 L427.0 123.5 L427.5 123.7 L428.0 123.9 L428.5 123.7 L429.0 123.5 L429.5 123.9 L430.0 124.6 L430.5 125.2 L431.0 125.5 L431.5 125.5 L432.0 125.6 L432.5 125.5 L433.0 125.6 L433.5 125.5 L434.0 125.4 L434.5 125.3 L435.0 125.1 L435.5 124.7 L436.0 124.5 L436.5 124.3 L437.0 123.8 L437.5 123.0 L438.0 122.5 L438.5 121.9 L439.0 120.7 L439.5 119.0 L440.0 117.6 L440.5 116.4 L441.0 115.1 L441.5 114.1 L442.0 113.7 L442.5 114.0 L443.0 114.9 L443.5 115.9 L444.0 117.3 L444.5 118.9 L445.0 120.1 L445.5 120.9 L446.0 121.7 L446.5 122.6 L447.0 123.3 L447.5 123.8 L448.0 124.3 L448.5 124.6 L449.0 124.9 L449.5 125.3 L450.0 125.4 L450.5 125.5 L451.0 125.7 L451.5 125.8 L452.0 125.8 L452.5 126.1 L453.0 126.4 L453.5 126.5 L454.0 126.5 L454.5 126.5 L455.0 126.6 L455.5 126.6 L456.0 126.8 L456.5 127.0 L457.0 127.0 L457.5 126.9 L458.0 126.9 L458.5 127.0 L459.0 127.2 L459.5 127.4 L460.0 127.3 L460.5 127.3 L461.0 127.5 L461.5 127.8 L462.0 127.8 L462.5 127.7 L463.0 127.8 L463.5 127.8 L464.0 127.8 L464.5 127.9 L465.0 127.9 L465.5 127.9 L466.0 127.9 L466.5 128.0 L467.0 128.0 L467.5 127.9 L468.0 127.8 L468.5 127.9 L469.0 128.1 L469.5 128.2 L470.0 128.2 L470.5 128.2 L471.0 128.0 L471.5 127.9 L472.0 127.9 L472.5 127.9 L473.0 128.0 L473.5 128.1 L474.0 128.0 L474.5 128.1 L475.0 128.3 L475.5 128.2 L476.0 128.1 L476.5 128.1 L477.0 128.0 L477.5 127.9 L478.0 127.8 L478.5 127.7 L479.0 127.9 L479.5 127.8 L480.0 127.7 L480.5 127.9 L481.0 127.8 L481.5 127.7 L482.0 127.7 L482.5 127.6 L483.0 127.5 L483.5 127.5 L484.0 127.6 L484.5 127.8 L485.0 127.8 L485.5 127.8 L486.0 127.9 L486.5 127.7 L487.0 127.5 L487.5 127.6 L488.0 127.8 L488.5 127.7 L489.0 127.6 L489.5 127.5 L490.0 127.5 L490.5 127.5 L491.0 127.4 L491.5 127.2 L492.0 127.1 L492.5 127.1 L493.0 127.2 L493.5 127.3 L494.0 127.3 L494.5 127.0 L495.0 126.9 L495.5 127.0 L496.0 126.8 L496.5 126.6 L497.0 126.6 L497.5 126.7 L498.0 126.6 L498.5 126.1 L499.0 125.9 L499.5 125.8 L500.0 125.5 L500.5 125.3 L501.0 125.1 L501.5 124.8 L502.0 124.6 L502.5 124.6 L503.0 124.6 L503.5 124.3 L504.0 123.7 L504.5 123.3 L505.0 122.8 L505.5 122.3 L506.0 121.5 L506.5 120.6 L507.0 119.9 L507.5 119.1 L508.0 118.3 L508.5 117.4 L509.0 116.4 L509.5 115.8 L510.0 115.2 L510.5 114.4 L511.0 113.4 L511.5 112.4 L512.0 111.4 L512.5 110.5 L513.0 109.7 L513.5 108.8 L514.0 107.7 L514.5 106.5 L515.0 105.6 L515.5 104.8 L516.0 103.8 L516.5 102.7 L517.0 101.8 L517.5 101.2 L518.0 100.8 L518.5 100.3 L519.0 99.4 L519.5 98.1 L520.0 96.6 L520.5 94.7 L521.0 92.5 L521.5 90.6 L522.0 89.2 L522.5 87.8 L523.0 86.3 L523.5 84.6 L524.0 82.8 L524.5 80.7 L525.0 78.4 L525.5 75.9 L526.0 73.3 L526.5 70.3 L527.0 66.9 L527.5 63.2 L528.0 59.5 L528.5 55.6 L529.0 51.5 L529.5 48.2 L530.0 45.1 L530.5 42.9 L531.0 41.6 L531.5 40.2 L532.0 39.6 L532.5 40.2 L533.0 41.6 L533.5 43.3 L534.0 45.6 L534.5 48.1 L535.0 50.5 L535.5 53.0 L536.0 55.3 L536.5 57.2 L537.0 59.1 L537.5 61.1 L538.0 63.3 L538.5 65.8 L539.0 68.6 L539.5 71.3 L540.0 73.9 L540.5 76.0 L541.0 78.1 L541.5 80.5 L542.0 82.5 L542.5 84.1 L543.0 85.1 L543.5 85.4 L544.0 85.1 L544.5 84.1 L545.0 82.5 L545.5 80.7 L546.0 78.9 L546.5 77.0 L547.0 75.2 L547.5 73.5 L548.0 71.6 L548.5 69.5 L549.0 67.9 L549.5 67.2 L550.0 66.5 L550.5 65.6 L551.0 64.9 L551.5 64.4 L552.0 64.3 L552.5 64.6 L553.0 65.1 L553.5 65.8 L554.0 66.5 L554.5 67.7 L555.0 69.5 L555.5 71.1 L556.0 72.5 L556.5 73.7 L557.0 74.8 L557.5 76.0 L558.0 77.5 L558.5 78.8 L559.0 80.1 L559.5 81.6 L560.0 83.2 L560.5 84.9 L561.0 86.9 L561.5 89.0 L562.0 90.6 L562.5 92.2 L563.0 93.7 L563.5 95.2 L564.0 96.8 L564.5 98.5 L565.0 99.9 L565.5 101.1 L566.0 102.1 L566.5 103.2 L567.0 104.3 L567.5 105.3 L568.0 106.5 L568.5 107.8 L569.0 108.7 L569.5 109.5 L570.0 110.2 L570.5 110.9 L571.0 111.7 L571.5 112.4 L572.0 113.1 L572.5 114.0 L573.0 114.8 L573.5 115.3 L574.0 115.8 L574.5 116.4 L575.0 117.0 L575.5 117.5 L576.0 118.0 L576.5 118.4 L577.0 119.0 L577.5 119.6 L578.0 120.2 L578.5 120.5 L579.0 120.7 L579.5 120.8 L580.0 121.0 L580.5 121.6 L581.0 122.3 L581.5 122.4 L582.0 122.1 L582.5 122.3 L583.0 122.7 L583.5 122.9 L584.0 123.3 L584.5 123.5 L585.0 123.6 L585.5 123.7 L586.0 123.8 L586.5 123.9 L587.0 124.3 L587.5 124.6 L588.0 124.6 L588.5 124.8 L589.0 125.2 L589.5 125.3 L590.0 125.4 L590.5 125.5 L591.0 125.7 L591.5 126.0 L592.0 126.3 L592.5 126.3 L593.0 126.2 L593.5 126.1 L594.0 126.2 L594.5 126.4 L595.0 126.4 L595.5 126.5 L596.0 126.5 L596.5 126.8 L597.0 126.7 L597.5 126.4 L598.0 126.5 L598.5 126.5 L599.0 126.4 L599.5 126.4 L600.0 126.4 L600.5 126.2 L601.0 126.2 L601.5 126.3 L602.0 126.5 L602.5 126.7 L603.0 126.7 L603.5 126.6 L604.0 126.3 L604.5 126.3 L605.0 126.5 L605.5 126.7 L606.0 126.8 L606.5 126.8 L607.0 126.7 L607.5 126.4 L608.0 126.3 L608.5 126.6 L609.0 126.7 L609.5 126.6 L610.0 126.6 L610.5 126.6 L611.0 126.7 L611.5 127.1 L612.0 127.1 L612.5 127.0 L613.0 127.0 L613.5 127.0 L614.0 127.1 L614.5 127.2 L615.0 127.0 L615.5 126.9 L616.0 126.8 L616.5 126.6 L617.0 126.3 L617.5 126.5 L618.0 127.1 L618.5 127.2 L619.0 126.9 L619.5 126.9 L620.0 126.9 L620.5 126.9 L621.0 127.0 L621.5 126.8 L622.0 126.5 L622.5 126.6 L623.0 127.0 L623.5 127.2 L624.0 127.1 L624.5 127.0 L625.0 126.9 L625.5 127.0 L626.0 127.2 L626.5 127.5 L627.0 127.6 L627.5 127.3 L628.0 127.1 L628.5 127.2 L629.0 127.3 L629.5 127.2 L630.0 127.2 L630.5 127.1 L631.0 126.9 L631.5 127.1 L632.0 127.2 L632.5 127.0 L633.0 127.0 L633.5 127.1 L634.0 126.9 L634.5 126.8 L635.0 126.7 L635.5 126.7 L636.0 126.7 L636.5 126.8 L637.0 126.9 L637.5 127.0 L638.0 126.8 L638.5 126.8 L639.0 127.1 L639.5 127.1 L640.0 126.8 L640.5 126.9 L641.0 127.0 L641.5 126.9 L642.0 126.9 L642.5 127.0 L643.0 127.1 L643.5 127.1 L644.0 127.1 L644.5 127.2 L645.0 127.2 L645.5 127.3 L646.0 127.1 L646.5 127.0 L647.0 127.1 L647.5 127.1 L648.0 127.1 L648.5 127.3 L649.0 127.5 L649.5 127.4 L650.0 127.2 L650.5 127.2 L651.0 127.3 L651.5 127.2 L652.0 126.9 L652.5 126.9 L653.0 127.2 L653.5 127.2 L654.0 126.9 L654.5 127.0 L655.0 127.3 L655.5 127.3 L656.0 127.0 L656.5 127.1 L657.0 127.2 L657.5 127.1 L658.0 127.0 L658.5 126.9 L659.0 126.9 L659.5 127.1 L660.0 127.1 L660.5 127.0 L661.0 127.2 L661.5 127.4 L662.0 127.4 L662.5 127.3 L663.0 127.3 L663.5 127.3 L664.0 127.3 L664.5 127.4 L665.0 127.2 L665.5 127.0 L666.0 127.0 L666.5 127.0 L667.0 127.0 L667.5 127.0 L668.0 127.1 L668.5 127.3 L669.0 127.3 L669.5 127.3 L670.0 127.3 L670.5 127.1 L671.0 126.9 L671.5 127.0 L672.0 127.1 L672.5 126.9 L673.0 127.0 L673.5 127.4 L674.0 127.6 L674.5 127.4 L675.0 127.1 L675.5 127.1 L676.0 127.3 L676.5 127.2 L677.0 126.9 L677.5 126.9 L678.0 126.8 L678.5 127.0 L679.0 127.5" fill="none" stroke="#111" stroke-width="1.8" stroke-linejoin="round"/>
<path d="M380.5 286.5 L381.0 286.7 L381.5 286.8 L382.0 286.8 L382.5 286.7 L383.0 286.7 L383.5 286.7 L384.0 286.5 L384.5 286.3 L385.0 286.4 L385.5 286.6 L386.0 286.7 L386.5 286.7 L387.0 286.8 L387.5 286.8 L388.0 286.8 L388.5 287.0 L389.0 287.2 L389.5 287.0 L390.0 286.9 L390.5 287.0 L391.0 286.9 L391.5 286.8 L392.0 286.6 L392.5 286.5 L393.0 286.5 L393.5 286.8 L394.0 286.8 L394.5 286.6 L395.0 286.6 L395.5 286.6 L396.0 286.5 L396.5 286.4 L397.0 286.3 L397.5 286.3 L398.0 286.4 L398.5 286.7 L399.0 286.9 L399.5 286.8 L400.0 286.6 L400.5 286.6 L401.0 286.9 L401.5 286.9 L402.0 286.6 L402.5 286.3 L403.0 286.2 L403.5 286.3 L404.0 286.3 L404.5 286.4 L405.0 286.4 L405.5 286.2 L406.0 286.2 L406.5 286.4 L407.0 286.5 L407.5 286.5 L408.0 286.1 L408.5 286.0 L409.0 286.2 L409.5 286.2 L410.0 286.1 L410.5 286.1 L411.0 286.2 L411.5 286.0 L412.0 286.0 L412.5 286.3 L413.0 286.4 L413.5 286.1 L414.0 285.7 L414.5 285.5 L415.0 285.4 L415.5 285.3 L416.0 285.5 L416.5 285.6 L417.0 285.4 L417.5 285.1 L418.0 284.8 L418.5 284.8 L419.0 284.6 L419.5 284.1 L420.0 283.6 L420.5 283.0 L421.0 282.2 L421.5 281.6 L422.0 280.8 L422.5 280.0 L423.0 279.0 L423.5 277.4 L424.0 276.1 L424.5 275.5 L425.0 275.1 L425.5 274.4 L426.0 274.0 L426.5 274.1 L427.0 273.9 L427.5 273.5 L428.0 273.2 L428.5 273.2 L429.0 273.4 L429.5 274.0 L430.0 274.7 L430.5 275.3 L431.0 275.7 L431.5 276.2 L432.0 276.9 L432.5 277.4 L433.0 277.6 L433.5 277.8 L434.0 277.8 L434.5 277.5 L435.0 277.2 L435.5 276.9 L436.0 276.1 L436.5 275.1 L437.0 274.0 L437.5 272.7 L438.0 271.0 L438.5 269.1 L439.0 266.8 L439.5 264.0 L440.0 261.5 L440.5 259.7 L441.0 258.2 L441.5 257.3 L442.0 257.6 L442.5 258.8 L443.0 260.0 L443.5 261.4 L444.0 262.9 L444.5 264.6 L445.0 266.6 L445.5 268.4 L446.0 270.5 L446.5 272.4 L447.0 273.3 L447.5 273.9 L448.0 274.5 L448.5 275.1 L449.0 275.6 L449.5 275.9 L450.0 276.4 L450.5 276.9 L451.0 277.3 L451.5 277.7 L452.0 278.2 L452.5 278.6 L453.0 278.7 L453.5 279.0 L454.0 279.4 L454.5 279.8 L455.0 280.1 L455.5 280.2 L456.0 280.5 L456.5 280.7 L457.0 280.8 L457.5 281.0 L458.0 281.3 L458.5 281.7 L459.0 281.8 L459.5 281.9 L460.0 282.0 L460.5 282.4 L461.0 282.8 L461.5 282.9 L462.0 282.8 L462.5 283.2 L463.0 283.8 L463.5 283.8 L464.0 283.6 L464.5 283.5 L465.0 283.5 L465.5 283.8 L466.0 283.9 L466.5 283.9 L467.0 284.1 L467.5 284.0 L468.0 284.0 L468.5 284.3 L469.0 284.4 L469.5 284.3 L470.0 284.3 L470.5 284.1 L471.0 284.2 L471.5 284.6 L472.0 284.8 L472.5 284.7 L473.0 284.6 L473.5 284.6 L474.0 284.5 L474.5 284.6 L475.0 284.8 L475.5 284.8 L476.0 284.7 L476.5 284.7 L477.0 284.7 L477.5 284.9 L478.0 284.8 L478.5 284.7 L479.0 284.7 L479.5 284.7 L480.0 284.7 L480.5 284.7 L481.0 284.8 L481.5 284.7 L482.0 284.6 L482.5 284.8 L483.0 284.7 L483.5 284.5 L484.0 284.6 L484.5 284.8 L485.0 284.8 L485.5 284.5 L486.0 284.5 L486.5 284.4 L487.0 284.4 L487.5 284.2 L488.0 284.2 L488.5 284.1 L489.0 283.7 L489.5 283.5 L490.0 283.7 L490.5 283.7 L491.0 283.7 L491.5 283.7 L492.0 283.6 L492.5 283.6 L493.0 283.5 L493.5 283.4 L494.0 283.4 L494.5 283.3 L495.0 283.1 L495.5 282.9 L496.0 282.7 L496.5 282.6 L497.0 282.7 L497.5 282.7 L498.0 282.5 L498.5 282.6 L499.0 282.7 L499.5 282.5 L500.0 282.1 L500.5 281.9 L501.0 281.7 L501.5 281.4 L502.0 281.1 L502.5 280.6 L503.0 279.9 L503.5 279.1 L504.0 278.3 L504.5 277.7 L505.0 277.1 L505.5 276.4 L506.0 275.6 L506.5 274.7 L507.0 273.7 L507.5 272.4 L508.0 271.3 L508.5 270.2 L509.0 268.8 L509.5 267.3 L510.0 265.7 L510.5 263.8 L511.0 261.9 L511.5 260.1 L512.0 258.1 L512.5 256.1 L513.0 254.4 L513.5 252.7 L514.0 250.8 L514.5 248.7 L515.0 246.5 L515.5 244.0 L516.0 241.1 L516.5 238.1 L517.0 234.9 L517.5 231.5 L518.0 228.5 L518.5 225.5 L519.0 222.6 L519.5 219.7 L520.0 216.7 L520.5 213.4 L521.0 210.5 L521.5 208.2 L522.0 205.9 L522.5 203.6 L523.0 200.9 L523.5 197.6 L524.0 193.4 L524.5 188.5 L525.0 183.0 L525.5 177.1 L526.0 170.8 L526.5 163.7 L527.0 155.9 L527.5 147.4 L528.0 139.1 L528.5 132.1 L529.0 126.0 L529.5 119.7 L530.0 113.0 L530.5 106.1 L531.0 100.1 L531.5 94.2 L532.0 88.4 L532.5 84.4 L533.0 83.8 L533.5 85.8 L534.0 89.3 L534.5 93.9 L535.0 99.7 L535.5 105.9 L536.0 111.9 L536.5 117.7 L537.0 123.4 L537.5 129.6 L538.0 136.0 L538.5 142.7 L539.0 149.3 L539.5 155.3 L540.0 160.2 L540.5 164.7 L541.0 169.3 L541.5 173.6 L542.0 177.2 L542.5 179.7 L543.0 180.5 L543.5 179.4 L544.0 177.5 L544.5 175.1 L545.0 172.1 L545.5 169.0 L546.0 165.8 L546.5 162.6 L547.0 159.9 L547.5 157.5 L548.0 155.1 L548.5 152.9 L549.0 150.7 L549.5 148.3 L550.0 145.8 L550.5 143.6 L551.0 141.9 L551.5 140.0 L552.0 137.6 L552.5 135.9 L553.0 135.7 L553.5 136.2 L554.0 137.2 L554.5 138.1 L555.0 139.0 L555.5 140.3 L556.0 141.9 L556.5 144.6 L557.0 147.9 L557.5 151.7 L558.0 155.7 L558.5 159.8 L559.0 164.4 L559.5 169.3 L560.0 174.7 L560.5 181.2 L561.0 187.6 L561.5 192.4 L562.0 196.2 L562.5 199.3 L563.0 202.2 L563.5 205.2 L564.0 208.4 L564.5 211.8 L565.0 215.3 L565.5 218.9 L566.0 222.2 L566.5 225.4 L567.0 228.4 L567.5 231.1 L568.0 233.7 L568.5 236.5 L569.0 238.9 L569.5 240.6 L570.0 242.3 L570.5 244.0 L571.0 245.7 L571.5 247.2 L572.0 248.6 L572.5 249.9 L573.0 251.0 L573.5 252.2 L574.0 253.2 L574.5 254.3 L575.0 255.4 L575.5 256.4 L576.0 257.2 L576.5 258.1 L577.0 259.1 L577.5 260.1 L578.0 260.8 L578.5 261.7 L579.0 263.1 L579.5 264.3 L580.0 265.3 L580.5 266.4 L581.0 267.4 L581.5 268.4 L582.0 269.2 L582.5 270.2 L583.0 271.1 L583.5 271.7 L584.0 272.5 L584.5 273.6 L585.0 274.2 L585.5 274.7 L586.0 275.1 L586.5 275.5 L587.0 276.2 L587.5 277.1 L588.0 277.7 L588.5 277.9 L589.0 278.5 L589.5 279.3 L590.0 279.6 L590.5 279.8 L591.0 280.0 L591.5 280.1 L592.0 280.2 L592.5 280.6 L593.0 280.7 L593.5 280.8 L594.0 281.0 L594.5 280.9 L595.0 281.3 L595.5 281.8 L596.0 281.8 L596.5 281.7 L597.0 281.7 L597.5 281.7 L598.0 281.8 L598.5 282.0 L599.0 282.3 L599.5 282.5 L600.0 282.6 L600.5 282.5 L601.0 282.4 L601.5 282.5 L602.0 282.6 L602.5 282.6 L603.0 282.4 L603.5 282.5 L604.0 282.7 L604.5 282.7 L605.0 282.5 L605.5 282.4 L606.0 282.5 L606.5 282.5 L607.0 282.1 L607.5 281.4 L608.0 280.8 L608.5 280.4 L609.0 280.3 L609.5 280.9 L610.0 281.7 L610.5 282.4 L611.0 282.7 L611.5 282.7 L612.0 282.9 L612.5 283.0 L613.0 283.1 L613.5 283.2 L614.0 283.3 L614.5 283.1 L615.0 283.0 L615.5 283.3 L616.0 283.4 L616.5 283.3 L617.0 283.2 L617.5 283.3 L618.0 283.4 L618.5 283.5 L619.0 283.5 L619.5 283.5 L620.0 283.5 L620.5 283.2 L621.0 283.2 L621.5 283.4 L622.0 283.3 L622.5 283.1 L623.0 283.1 L623.5 283.3 L624.0 283.2 L624.5 283.3 L625.0 283.5 L625.5 283.6 L626.0 283.6 L626.5 283.3 L627.0 283.2 L627.5 283.1 L628.0 283.2 L628.5 283.3 L629.0 283.4 L629.5 283.3 L630.0 283.2 L630.5 283.3 L631.0 283.3 L631.5 283.2 L632.0 283.3 L632.5 283.4 L633.0 283.2 L633.5 283.0 L634.0 283.3 L634.5 283.3 L635.0 283.4 L635.5 283.7 L636.0 283.5 L636.5 283.1 L637.0 283.2 L637.5 283.4 L638.0 283.5 L638.5 283.6 L639.0 283.6 L639.5 283.4 L640.0 283.4 L640.5 283.5 L641.0 283.3 L641.5 283.3 L642.0 283.5 L642.5 283.4 L643.0 283.2 L643.5 283.1 L644.0 283.2 L644.5 283.2 L645.0 283.3 L645.5 283.4 L646.0 283.2 L646.5 283.1 L647.0 283.1 L647.5 282.9 L648.0 283.0 L648.5 283.2 L649.0 283.0 L649.5 283.1 L650.0 283.3 L650.5 283.3 L651.0 283.2 L651.5 283.1 L652.0 283.1 L652.5 283.1 L653.0 283.3 L653.5 283.5 L654.0 283.3 L654.5 283.0 L655.0 282.9 L655.5 282.9 L656.0 282.7 L656.5 282.8 L657.0 282.9 L657.5 282.7 L658.0 282.7 L658.5 283.0 L659.0 283.0 L659.5 282.8 L660.0 282.8 L660.5 282.8 L661.0 282.9 L661.5 282.8 L662.0 282.6 L662.5 282.6 L663.0 282.6 L663.5 282.5 L664.0 282.6 L664.5 282.6 L665.0 282.4 L665.5 282.2 L666.0 281.9 L666.5 281.9 L667.0 282.1 L667.5 282.4 L668.0 282.4 L668.5 282.2 L669.0 281.9 L669.5 281.8 L670.0 281.8 L670.5 281.8 L671.0 281.6 L671.5 281.9 L672.0 282.2 L672.5 282.1 L673.0 281.7 L673.5 281.6 L674.0 281.5 L674.5 281.3 L675.0 281.2 L675.5 281.3 L676.0 281.4 L676.5 281.5 L677.0 281.5 L677.5 281.2 L678.0 281.0 L678.5 281.1 L679.0 281.2" fill="none" stroke="#111" stroke-width="1.8" stroke-linejoin="round"/>
<path d="M380.5 305.4 L381.0 305.3 L381.5 305.2 L382.0 305.3 L382.5 305.4 L383.0 305.3 L383.5 305.2 L384.0 305.1 L384.5 305.1 L385.0 305.2 L385.5 305.1 L386.0 305.3 L386.5 305.6 L387.0 305.4 L387.5 305.1 L388.0 305.2 L388.5 305.2 L389.0 304.9 L389.5 305.1 L390.0 305.3 L390.5 305.3 L391.0 305.2 L391.5 305.1 L392.0 305.2 L392.5 305.3 L393.0 305.3 L393.5 305.3 L394.0 305.3 L394.5 305.4 L395.0 305.2 L395.5 305.1 L396.0 305.1 L396.5 305.1 L397.0 304.8 L397.5 304.7 L398.0 304.9 L398.5 305.1 L399.0 305.1 L399.5 305.3 L400.0 305.7 L400.5 305.6 L401.0 305.2 L401.5 305.2 L402.0 305.3 L402.5 305.3 L403.0 305.4 L403.5 305.5 L404.0 305.4 L404.5 305.3 L405.0 305.1 L405.5 305.0 L406.0 305.1 L406.5 305.4 L407.0 305.2 L407.5 305.0 L408.0 305.2 L408.5 305.3 L409.0 305.1 L409.5 305.0 L410.0 305.0 L410.5 305.1 L411.0 305.3 L411.5 305.3 L412.0 305.3 L412.5 305.1 L413.0 304.8 L413.5 305.0 L414.0 305.0 L414.5 304.7 L415.0 304.5 L415.5 304.4 L416.0 304.3 L416.5 304.4 L417.0 304.5 L417.5 304.4 L418.0 304.2 L418.5 303.9 L419.0 303.6 L419.5 303.5 L420.0 303.3 L420.5 302.8 L421.0 302.2 L421.5 301.6 L422.0 301.0 L422.5 300.1 L423.0 299.2 L423.5 298.4 L424.0 297.6 L424.5 297.0 L425.0 296.4 L425.5 295.6 L426.0 295.2 L426.5 295.0 L427.0 294.6 L427.5 294.5 L428.0 294.7 L428.5 294.9 L429.0 294.8 L429.5 295.0 L430.0 295.6 L430.5 296.2 L431.0 296.5 L431.5 296.8 L432.0 297.1 L432.5 297.5 L433.0 297.7 L433.5 297.7 L434.0 297.8 L434.5 297.8 L435.0 297.6 L435.5 297.6 L436.0 297.9 L436.5 297.6 L437.0 296.9 L437.5 296.0 L438.0 295.2 L438.5 293.6 L439.0 291.6 L439.5 289.9 L440.0 288.0 L440.5 286.3 L441.0 285.5 L441.5 285.2 L442.0 285.3 L442.5 286.0 L443.0 286.9 L443.5 287.4 L444.0 288.3 L444.5 289.2 L445.0 290.0 L445.5 290.8 L446.0 291.8 L446.5 292.9 L447.0 293.6 L447.5 294.0 L448.0 294.1 L448.5 294.3 L449.0 294.6 L449.5 294.9 L450.0 295.2 L450.5 295.6 L451.0 296.0 L451.5 296.2 L452.0 296.3 L452.5 296.5 L453.0 296.7 L453.5 296.8 L454.0 297.1 L454.5 297.4 L455.0 297.6 L455.5 297.9 L456.0 298.4 L456.5 298.9 L457.0 299.0 L457.5 299.0 L458.0 299.4 L458.5 299.9 L459.0 300.3 L459.5 300.7 L460.0 301.0 L460.5 301.0 L461.0 300.7 L461.5 300.6 L462.0 300.9 L462.5 301.3 L463.0 301.4 L463.5 301.2 L464.0 301.2 L464.5 301.4 L465.0 301.7 L465.5 301.7 L466.0 301.8 L466.5 302.2 L467.0 302.5 L467.5 302.5 L468.0 302.4 L468.5 302.6 L469.0 302.9 L469.5 303.0 L470.0 303.0 L470.5 303.0 L471.0 303.1 L471.5 303.2 L472.0 303.3 L472.5 303.6 L473.0 303.6 L473.5 303.2 L474.0 303.3 L474.5 303.6 L475.0 303.9 L475.5 303.7 L476.0 303.2 L476.5 303.1 L477.0 303.4 L477.5 303.5 L478.0 303.4 L478.5 303.6 L479.0 303.7 L479.5 303.6 L480.0 303.4 L480.5 303.5 L481.0 303.5 L481.5 303.6 L482.0 303.7 L482.5 303.7 L483.0 303.7 L483.5 303.7 L484.0 303.8 L484.5 303.8 L485.0 303.5 L485.5 303.5 L486.0 303.4 L486.5 303.3 L487.0 303.5 L487.5 303.5 L488.0 303.3 L488.5 303.3 L489.0 303.4 L489.5 303.3 L490.0 303.2 L490.5 303.3 L491.0 303.2 L491.5 303.2 L492.0 303.4 L492.5 303.1 L493.0 302.8 L493.5 302.8 L494.0 302.9 L494.5 302.9 L495.0 303.0 L495.5 303.0 L496.0 302.9 L496.5 302.8 L497.0 302.9 L497.5 302.7 L498.0 302.4 L498.5 302.5 L499.0 302.4 L499.5 302.1 L500.0 301.7 L500.5 301.5 L501.0 301.5 L501.5 301.5 L502.0 301.3 L502.5 300.8 L503.0 300.3 L503.5 299.8 L504.0 299.2 L504.5 298.7 L505.0 298.2 L505.5 297.7 L506.0 296.9 L506.5 295.9 L507.0 295.3 L507.5 294.8 L508.0 293.9 L508.5 292.8 L509.0 291.7 L509.5 290.3 L510.0 288.3 L510.5 286.5 L511.0 284.9 L511.5 283.2 L512.0 281.4 L512.5 279.7 L513.0 278.0 L513.5 276.3 L514.0 274.5 L514.5 272.6 L515.0 270.8 L515.5 269.0 L516.0 267.2 L516.5 265.4 L517.0 263.4 L517.5 261.0 L518.0 258.7 L518.5 256.3 L519.0 253.9 L519.5 250.8 L520.0 246.6 L520.5 242.6 L521.0 239.6 L521.5 237.5 L522.0 236.0 L522.5 234.3 L523.0 231.8 L523.5 228.6 L524.0 223.2 L524.5 217.3 L525.0 213.2 L525.5 210.3 L526.0 207.6 L526.5 204.8 L527.0 201.1 L527.5 194.6 L528.0 183.8 L528.5 174.0 L529.0 166.1 L529.5 159.5 L530.0 154.6 L530.5 150.7 L531.0 146.4 L531.5 141.9 L532.0 138.8 L532.5 136.6 L533.0 134.3 L533.5 132.8 L534.0 132.4 L534.5 132.9 L535.0 134.4 L535.5 136.7 L536.0 139.5 L536.5 142.5 L537.0 145.0 L537.5 147.2 L538.0 149.5 L538.5 151.7 L539.0 154.0 L539.5 156.7 L540.0 159.4 L540.5 162.1 L541.0 165.2 L541.5 168.2 L542.0 171.7 L542.5 176.9 L543.0 182.8 L543.5 188.3 L544.0 192.4 L544.5 194.2 L545.0 193.9 L545.5 193.1 L546.0 191.9 L546.5 190.2 L547.0 188.3 L547.5 186.6 L548.0 184.9 L548.5 183.0 L549.0 181.0 L549.5 178.6 L550.0 176.0 L550.5 173.5 L551.0 171.1 L551.5 169.0 L552.0 167.7 L552.5 167.2 L553.0 167.2 L553.5 167.4 L554.0 167.9 L554.5 168.9 L555.0 170.2 L555.5 171.8 L556.0 173.8 L556.5 176.2 L557.0 179.1 L557.5 182.3 L558.0 184.9 L558.5 187.4 L559.0 190.2 L559.5 192.7 L560.0 194.8 L560.5 197.0 L561.0 199.6 L561.5 202.2 L562.0 204.8 L562.5 207.2 L563.0 209.4 L563.5 211.9 L564.0 214.8 L564.5 217.9 L565.0 221.0 L565.5 224.1 L566.0 227.4 L566.5 230.7 L567.0 234.1 L567.5 237.6 L568.0 240.7 L568.5 243.6 L569.0 246.3 L569.5 248.6 L570.0 250.6 L570.5 252.7 L571.0 254.7 L571.5 256.3 L572.0 257.8 L572.5 259.2 L573.0 260.5 L573.5 261.7 L574.0 263.2 L574.5 264.9 L575.0 266.6 L575.5 268.2 L576.0 269.8 L576.5 271.3 L577.0 272.9 L577.5 274.4 L578.0 275.9 L578.5 277.6 L579.0 279.1 L579.5 280.0 L580.0 280.9 L580.5 282.3 L581.0 283.7 L581.5 284.8 L582.0 285.8 L582.5 286.8 L583.0 287.4 L583.5 287.9 L584.0 288.8 L584.5 289.9 L585.0 290.8 L585.5 291.3 L586.0 291.9 L586.5 292.5 L587.0 293.0 L587.5 293.6 L588.0 294.0 L588.5 294.3 L589.0 294.7 L589.5 295.2 L590.0 295.6 L590.5 296.1 L591.0 296.6 L591.5 297.1 L592.0 297.5 L592.5 297.9 L593.0 298.3 L593.5 298.3 L594.0 298.4 L594.5 298.8 L595.0 298.9 L595.5 299.1 L596.0 299.3 L596.5 299.3 L597.0 299.4 L597.5 299.6 L598.0 299.6 L598.5 299.5 L599.0 299.5 L599.5 299.5 L600.0 299.5 L600.5 299.6 L601.0 299.8 L601.5 300.1 L602.0 300.3 L602.5 300.2 L603.0 300.1 L603.5 300.0 L604.0 300.1 L604.5 300.3 L605.0 300.6 L605.5 300.7 L606.0 300.7 L606.5 300.4 L607.0 300.3 L607.5 300.7 L608.0 301.0 L608.5 301.0 L609.0 301.0 L609.5 301.1 L610.0 301.0 L610.5 300.4 L611.0 299.9 L611.5 299.5 L612.0 299.5 L612.5 299.8 L613.0 300.4 L613.5 301.1 L614.0 301.5 L614.5 301.4 L615.0 301.3 L615.5 301.2 L616.0 301.4 L616.5 301.7 L617.0 301.7 L617.5 301.5 L618.0 301.3 L618.5 301.4 L619.0 301.7 L619.5 301.7 L620.0 301.8 L620.5 302.1 L621.0 302.2 L621.5 302.0 L622.0 301.8 L622.5 301.7 L623.0 301.8 L623.5 301.9 L624.0 301.7 L624.5 301.5 L625.0 301.3 L625.5 301.4 L626.0 301.7 L626.5 301.9 L627.0 301.8 L627.5 301.7 L628.0 301.6 L628.5 301.6 L629.0 301.8 L629.5 302.0 L630.0 302.1 L630.5 301.9 L631.0 301.7 L631.5 301.6 L632.0 301.7 L632.5 301.6 L633.0 301.6 L633.5 301.9 L634.0 301.9 L634.5 301.7 L635.0 301.6 L635.5 301.7 L636.0 301.8 L636.5 301.7 L637.0 301.8 L637.5 302.0 L638.0 302.2 L638.5 302.0 L639.0 301.8 L639.5 301.8 L640.0 302.0 L640.5 302.0 L641.0 301.9 L641.5 301.8 L642.0 301.7 L642.5 301.5 L643.0 301.6 L643.5 302.0 L644.0 302.1 L644.5 302.0 L645.0 301.8 L645.5 301.7 L646.0 301.8 L646.5 301.7 L647.0 301.6 L647.5 301.7 L648.0 301.8 L648.5 301.9 L649.0 301.9 L649.5 302.0 L650.0 302.0 L650.5 301.9 L651.0 301.5 L651.5 301.6 L652.0 301.8 L652.5 301.7 L653.0 301.3 L653.5 301.3 L654.0 301.8 L654.5 302.2 L655.0 302.0 L655.5 301.7 L656.0 301.5 L656.5 301.2 L657.0 301.4 L657.5 301.8 L658.0 301.7 L658.5 301.4 L659.0 301.7 L659.5 301.8 L660.0 301.8 L660.5 301.6 L661.0 301.5 L661.5 301.4 L662.0 301.6 L662.5 301.6 L663.0 301.5 L663.5 301.4 L664.0 301.5 L664.5 301.7 L665.0 301.5 L665.5 301.2 L666.0 301.4 L666.5 301.6 L667.0 301.4 L667.5 301.3 L668.0 301.3 L668.5 301.2 L669.0 301.4 L669.5 301.6 L670.0 301.6 L670.5 301.7 L671.0 301.7 L671.5 301.5 L672.0 301.4 L672.5 301.5 L673.0 301.7 L673.5 301.6 L674.0 301.3 L674.5 301.0 L675.0 301.0 L675.5 301.1 L676.0 301.1 L676.5 300.9 L677.0 301.0 L677.5 301.2 L678.0 301.1 L678.5 301.1 L679.0 301.4" fill="none" stroke="#111" stroke-width="1.8" stroke-linejoin="round"/>
<path d="M380.5 319.9 L381.0 320.2 L381.5 320.3 L382.0 320.2 L382.5 320.1 L383.0 320.0 L383.5 319.9 L384.0 319.9 L384.5 319.9 L385.0 319.6 L385.5 319.9 L386.0 320.2 L386.5 320.0 L387.0 320.0 L387.5 320.4 L388.0 320.4 L388.5 320.1 L389.0 320.0 L389.5 320.0 L390.0 320.0 L390.5 320.0 L391.0 320.0 L391.5 320.1 L392.0 319.9 L392.5 319.6 L393.0 319.7 L393.5 319.9 L394.0 319.7 L394.5 319.7 L395.0 320.1 L395.5 320.2 L396.0 320.0 L396.5 320.0 L397.0 320.2 L397.5 320.3 L398.0 320.1 L398.5 320.0 L399.0 320.0 L399.5 320.0 L400.0 319.7 L400.5 319.7 L401.0 319.9 L401.5 320.1 L402.0 320.1 L402.5 320.1 L403.0 320.2 L403.5 320.3 L404.0 320.2 L404.5 320.2 L405.0 320.2 L405.5 320.1 L406.0 320.1 L406.5 320.0 L407.0 319.7 L407.5 319.8 L408.0 320.1 L408.5 319.9 L409.0 319.8 L409.5 320.1 L410.0 320.2 L410.5 320.0 L411.0 319.8 L411.5 319.7 L412.0 319.8 L412.5 320.0 L413.0 319.9 L413.5 319.8 L414.0 319.7 L414.5 319.7 L415.0 319.5 L415.5 319.3 L416.0 319.3 L416.5 319.3 L417.0 319.2 L417.5 319.4 L418.0 319.6 L418.5 319.5 L419.0 319.2 L419.5 318.7 L420.0 318.3 L420.5 318.0 L421.0 317.6 L421.5 317.2 L422.0 317.1 L422.5 317.0 L423.0 316.6 L423.5 315.9 L424.0 315.3 L424.5 314.8 L425.0 314.4 L425.5 314.2 L426.0 314.3 L426.5 314.3 L427.0 314.0 L427.5 313.8 L428.0 313.9 L428.5 314.1 L429.0 314.0 L429.5 313.7 L430.0 313.8 L430.5 314.0 L431.0 314.2 L431.5 314.6 L432.0 315.0 L432.5 315.3 L433.0 315.7 L433.5 316.3 L434.0 316.6 L434.5 316.5 L435.0 316.2 L435.5 315.9 L436.0 315.7 L436.5 315.9 L437.0 315.8 L437.5 315.2 L438.0 314.8 L438.5 314.4 L439.0 313.5 L439.5 312.6 L440.0 312.3 L440.5 311.8 L441.0 311.2 L441.5 310.6 L442.0 310.4 L442.5 310.3 L443.0 310.4 L443.5 310.8 L444.0 311.3 L444.5 311.7 L445.0 312.1 L445.5 312.5 L446.0 313.0 L446.5 313.5 L447.0 313.6 L447.5 313.6 L448.0 314.0 L448.5 314.2 L449.0 314.2 L449.5 314.2 L450.0 314.2 L450.5 314.2 L451.0 314.1 L451.5 314.3 L452.0 314.4 L452.5 314.6 L453.0 314.6 L453.5 314.5 L454.0 314.6 L454.5 314.7 L455.0 314.8 L455.5 315.0 L456.0 315.1 L456.5 315.2 L457.0 315.5 L457.5 315.7 L458.0 316.1 L458.5 316.3 L459.0 316.2 L459.5 316.2 L460.0 316.6 L460.5 316.9 L461.0 317.0 L461.5 316.8 L462.0 316.8 L462.5 317.1 L463.0 317.4 L463.5 317.7 L464.0 317.9 L464.5 318.1 L465.0 318.2 L465.5 318.4 L466.0 318.4 L466.5 318.3 L467.0 318.4 L467.5 318.5 L468.0 318.7 L468.5 318.8 L469.0 318.8 L469.5 318.7 L470.0 318.8 L470.5 318.9 L471.0 318.8 L471.5 318.6 L472.0 318.5 L472.5 318.5 L473.0 318.7 L473.5 318.9 L474.0 318.8 L474.5 318.6 L475.0 318.4 L475.5 318.5 L476.0 318.8 L476.5 318.7 L477.0 318.5 L477.5 318.5 L478.0 318.5 L478.5 318.5 L479.0 318.6 L479.5 318.7 L480.0 318.6 L480.5 318.5 L481.0 318.6 L481.5 318.5 L482.0 318.5 L482.5 318.4 L483.0 318.2 L483.5 318.0 L484.0 318.0 L484.5 318.1 L485.0 318.1 L485.5 318.3 L486.0 318.4 L486.5 318.3 L487.0 318.3 L487.5 318.3 L488.0 318.1 L488.5 318.1 L489.0 318.3 L489.5 318.3 L490.0 318.2 L490.5 318.2 L491.0 318.1 L491.5 318.0 L492.0 318.1 L492.5 318.3 L493.0 318.3 L493.5 318.0 L494.0 317.8 L494.5 317.9 L495.0 317.9 L495.5 317.9 L496.0 317.9 L496.5 317.9 L497.0 317.9 L497.5 317.8 L498.0 317.6 L498.5 317.5 L499.0 317.5 L499.5 317.8 L500.0 317.8 L500.5 317.5 L501.0 317.5 L501.5 317.4 L502.0 317.4 L502.5 317.3 L503.0 317.2 L503.5 317.1 L504.0 317.0 L504.5 316.7 L505.0 316.4 L505.5 316.0 L506.0 315.9 L506.5 316.0 L507.0 315.7 L507.5 315.1 L508.0 314.8 L508.5 314.2 L509.0 313.4 L509.5 312.9 L510.0 312.6 L510.5 312.2 L511.0 311.5 L511.5 310.6 L512.0 309.7 L512.5 308.6 L513.0 307.3 L513.5 306.1 L514.0 304.8 L514.5 303.3 L515.0 302.1 L515.5 301.2 L516.0 300.0 L516.5 298.5 L517.0 296.9 L517.5 295.5 L518.0 294.2 L518.5 292.9 L519.0 291.2 L519.5 289.5 L520.0 288.0 L520.5 286.7 L521.0 285.2 L521.5 283.5 L522.0 281.8 L522.5 280.3 L523.0 278.6 L523.5 276.7 L524.0 274.9 L524.5 273.4 L525.0 271.9 L525.5 270.4 L526.0 268.6 L526.5 266.5 L527.0 264.2 L527.5 260.9 L528.0 256.7 L528.5 252.0 L529.0 247.3 L529.5 242.8 L530.0 238.2 L530.5 233.1 L531.0 227.0 L531.5 219.7 L532.0 215.3 L532.5 212.3 L533.0 210.7 L533.5 209.6 L534.0 208.9 L534.5 208.3 L535.0 207.3 L535.5 206.1 L536.0 205.3 L536.5 205.2 L537.0 205.6 L537.5 206.7 L538.0 208.6 L538.5 210.9 L539.0 213.6 L539.5 216.3 L540.0 218.3 L540.5 219.9 L541.0 222.0 L541.5 224.3 L542.0 226.8 L542.5 229.4 L543.0 231.6 L543.5 233.5 L544.0 234.9 L544.5 235.7 L545.0 235.8 L545.5 235.3 L546.0 234.4 L546.5 233.1 L547.0 231.7 L547.5 230.3 L548.0 228.8 L548.5 227.8 L549.0 227.1 L549.5 226.3 L550.0 225.5 L550.5 224.7 L551.0 223.9 L551.5 223.5 L552.0 223.1 L552.5 222.7 L553.0 222.5 L553.5 222.2 L554.0 221.8 L554.5 221.3 L555.0 221.0 L555.5 220.9 L556.0 220.6 L556.5 220.5 L557.0 220.6 L557.5 221.1 L558.0 221.9 L558.5 223.1 L559.0 224.6 L559.5 226.4 L560.0 228.1 L560.5 229.4 L561.0 231.1 L561.5 232.8 L562.0 234.5 L562.5 236.3 L563.0 238.1 L563.5 240.1 L564.0 242.4 L564.5 244.8 L565.0 247.1 L565.5 249.4 L566.0 251.5 L566.5 253.5 L567.0 255.4 L567.5 257.2 L568.0 258.9 L568.5 260.2 L569.0 261.4 L569.5 263.0 L570.0 264.6 L570.5 266.1 L571.0 267.3 L571.5 268.7 L572.0 270.3 L572.5 271.7 L573.0 272.9 L573.5 274.2 L574.0 275.5 L574.5 277.3 L575.0 278.9 L575.5 280.0 L576.0 281.3 L576.5 282.8 L577.0 284.2 L577.5 285.7 L578.0 287.0 L578.5 288.2 L579.0 289.7 L579.5 291.1 L580.0 292.1 L580.5 292.8 L581.0 294.0 L581.5 295.3 L582.0 296.3 L582.5 297.5 L583.0 298.8 L583.5 300.1 L584.0 301.0 L584.5 301.6 L585.0 302.7 L585.5 303.7 L586.0 304.2 L586.5 304.8 L587.0 305.4 L587.5 306.1 L588.0 306.9 L588.5 307.6 L589.0 308.0 L589.5 308.2 L590.0 308.6 L590.5 309.0 L591.0 309.1 L591.5 309.5 L592.0 310.4 L592.5 311.0 L593.0 311.0 L593.5 311.2 L594.0 311.4 L594.5 311.8 L595.0 312.1 L595.5 312.3 L596.0 312.6 L596.5 312.9 L597.0 313.1 L597.5 313.2 L598.0 313.3 L598.5 313.7 L599.0 314.0 L599.5 314.1 L600.0 314.5 L600.5 314.6 L601.0 314.6 L601.5 314.7 L602.0 314.8 L602.5 314.9 L603.0 315.3 L603.5 315.4 L604.0 315.3 L604.5 315.3 L605.0 315.4 L605.5 315.7 L606.0 315.8 L606.5 315.6 L607.0 315.6 L607.5 315.8 L608.0 315.9 L608.5 316.0 L609.0 315.6 L609.5 315.5 L610.0 315.6 L610.5 315.8 L611.0 316.0 L611.5 315.9 L612.0 315.8 L612.5 315.8 L613.0 315.7 L613.5 315.5 L614.0 315.4 L614.5 315.4 L615.0 315.4 L615.5 315.6 L616.0 315.6 L616.5 315.7 L617.0 316.1 L617.5 316.2 L618.0 316.5 L618.5 317.0 L619.0 316.8 L619.5 316.5 L620.0 316.4 L620.5 316.7 L621.0 316.9 L621.5 316.9 L622.0 316.9 L622.5 317.0 L623.0 316.9 L623.5 317.0 L624.0 317.1 L624.5 316.8 L625.0 316.8 L625.5 317.2 L626.0 317.2 L626.5 316.9 L627.0 316.8 L627.5 316.9 L628.0 317.1 L628.5 317.2 L629.0 317.4 L629.5 317.5 L630.0 317.4 L630.5 317.4 L631.0 317.4 L631.5 317.5 L632.0 317.4 L632.5 317.4 L633.0 317.5 L633.5 317.5 L634.0 317.5 L634.5 317.4 L635.0 317.3 L635.5 317.5 L636.0 317.8 L636.5 317.6 L637.0 317.3 L637.5 317.3 L638.0 317.3 L638.5 317.3 L639.0 317.3 L639.5 317.3 L640.0 317.3 L640.5 317.3 L641.0 317.3 L641.5 317.1 L642.0 317.0 L642.5 317.1 L643.0 317.2 L643.5 317.3 L644.0 317.3 L644.5 317.3 L645.0 317.5 L645.5 317.5 L646.0 317.5 L646.5 317.6 L647.0 317.5 L647.5 317.5 L648.0 317.4 L648.5 317.3 L649.0 317.5 L649.5 317.7 L650.0 317.5 L650.5 317.5 L651.0 317.7 L651.5 317.6 L652.0 317.4 L652.5 317.1 L653.0 317.2 L653.5 317.3 L654.0 317.5 L654.5 317.6 L655.0 317.4 L655.5 317.1 L656.0 317.0 L656.5 317.3 L657.0 317.6 L657.5 317.4 L658.0 317.3 L658.5 317.4 L659.0 317.5 L659.5 317.6 L660.0 317.6 L660.5 317.3 L661.0 317.1 L661.5 317.3 L662.0 317.5 L662.5 317.3 L663.0 317.2 L663.5 317.0 L664.0 316.9 L664.5 316.8 L665.0 316.8 L665.5 317.1 L666.0 317.3 L666.5 317.3 L667.0 317.0 L667.5 316.8 L668.0 316.7 L668.5 316.8 L669.0 317.3 L669.5 317.5 L670.0 317.1 L670.5 316.9 L671.0 317.1 L671.5 317.0 L672.0 317.0 L672.5 316.9 L673.0 316.9 L673.5 317.0 L674.0 316.8 L674.5 316.7 L675.0 316.9 L675.5 316.8 L676.0 316.6 L676.5 316.6 L677.0 316.7 L677.5 316.6 L678.0 316.7 L678.5 316.8 L679.0 316.7" fill="none" stroke="#111" stroke-width="1.8" stroke-linejoin="round"/>
<path d="M380.5 334.3 L381.0 334.6 L381.5 334.6 L382.0 334.5 L382.5 334.4 L383.0 334.3 L383.5 334.1 L384.0 334.0 L384.5 334.2 L385.0 334.3 L385.5 334.2 L386.0 334.3 L386.5 334.5 L387.0 334.6 L387.5 334.6 L388.0 334.5 L388.5 334.2 L389.0 334.1 L389.5 334.4 L390.0 334.5 L390.5 334.4 L391.0 334.2 L391.5 334.0 L392.0 334.0 L392.5 334.1 L393.0 334.1 L393.5 334.2 L394.0 334.5 L394.5 334.3 L395.0 334.1 L395.5 334.1 L396.0 334.2 L396.5 334.3 L397.0 334.4 L397.5 334.3 L398.0 333.9 L398.5 334.0 L399.0 334.2 L399.5 334.2 L400.0 333.9 L400.5 333.8 L401.0 333.9 L401.5 334.1 L402.0 334.2 L402.5 334.1 L403.0 334.3 L403.5 334.2 L404.0 333.9 L404.5 334.0 L405.0 334.2 L405.5 334.1 L406.0 334.1 L406.5 334.1 L407.0 334.0 L407.5 333.8 L408.0 333.8 L408.5 333.9 L409.0 334.0 L409.5 333.7 L410.0 333.6 L410.5 334.0 L411.0 334.1 L411.5 334.0 L412.0 333.9 L412.5 333.6 L413.0 333.6 L413.5 333.8 L414.0 334.0 L414.5 333.6 L415.0 333.4 L415.5 333.7 L416.0 333.9 L416.5 334.0 L417.0 333.8 L417.5 333.8 L418.0 333.9 L418.5 333.7 L419.0 333.7 L419.5 333.7 L420.0 333.3 L420.5 333.1 L421.0 333.2 L421.5 332.9 L422.0 332.4 L422.5 332.2 L423.0 332.0 L423.5 331.5 L424.0 331.1 L424.5 330.6 L425.0 330.4 L425.5 330.5 L426.0 330.7 L426.5 330.6 L427.0 330.5 L427.5 330.5 L428.0 330.7 L428.5 330.8 L429.0 330.8 L429.5 331.0 L430.0 331.4 L430.5 331.4 L431.0 331.5 L431.5 331.6 L432.0 331.6 L432.5 331.6 L433.0 331.8 L433.5 332.0 L434.0 331.9 L434.5 332.0 L435.0 332.1 L435.5 331.9 L436.0 331.9 L436.5 331.7 L437.0 331.4 L437.5 331.2 L438.0 331.1 L438.5 330.7 L439.0 330.1 L439.5 329.5 L440.0 329.0 L440.5 328.7 L441.0 328.7 L441.5 328.6 L442.0 328.8 L442.5 329.0 L443.0 329.3 L443.5 329.6 L444.0 329.7 L444.5 329.8 L445.0 330.0 L445.5 330.2 L446.0 330.5 L446.5 330.7 L447.0 330.7 L447.5 330.5 L448.0 330.4 L448.5 330.8 L449.0 331.0 L449.5 331.0 L450.0 331.2 L450.5 331.2 L451.0 331.1 L451.5 331.1 L452.0 330.9 L452.5 330.9 L453.0 331.1 L453.5 331.2 L454.0 331.4 L454.5 331.3 L455.0 331.1 L455.5 331.3 L456.0 331.5 L456.5 331.4 L457.0 331.4 L457.5 331.4 L458.0 331.6 L458.5 332.0 L459.0 332.2 L459.5 332.0 L460.0 332.1 L460.5 332.4 L461.0 332.4 L461.5 332.4 L462.0 332.4 L462.5 332.4 L463.0 332.4 L463.5 332.5 L464.0 332.5 L464.5 332.6 L465.0 332.6 L465.5 332.5 L466.0 332.6 L466.5 332.8 L467.0 333.0 L467.5 332.9 L468.0 332.8 L468.5 332.9 L469.0 332.8 L469.5 332.8 L470.0 333.0 L470.5 333.3 L471.0 333.3 L471.5 333.4 L472.0 333.5 L472.5 333.4 L473.0 333.3 L473.5 333.4 L474.0 333.4 L474.5 333.5 L475.0 333.5 L475.5 333.4 L476.0 333.3 L476.5 333.4 L477.0 333.5 L477.5 333.5 L478.0 333.5 L478.5 333.3 L479.0 333.4 L479.5 333.7 L480.0 333.9 L480.5 333.9 L481.0 333.9 L481.5 334.1 L482.0 334.1 L482.5 333.9 L483.0 334.0 L483.5 334.0 L484.0 334.0 L484.5 334.0 L485.0 334.0 L485.5 333.9 L486.0 333.9 L486.5 334.0 L487.0 334.0 L487.5 333.8 L488.0 333.6 L488.5 333.7 L489.0 333.9 L489.5 333.9 L490.0 333.9 L490.5 333.8 L491.0 333.8 L491.5 333.7 L492.0 333.6 L492.5 333.7 L493.0 333.6 L493.5 333.6 L494.0 333.7 L494.5 333.7 L495.0 333.9 L495.5 333.9 L496.0 333.5 L496.5 333.1 L497.0 333.0 L497.5 333.0 L498.0 333.2 L498.5 333.2 L499.0 333.2 L499.5 333.0 L500.0 332.7 L500.5 332.7 L501.0 332.9 L501.5 332.9 L502.0 332.8 L502.5 332.6 L503.0 332.3 L503.5 332.0 L504.0 331.7 L504.5 331.5 L505.0 331.4 L505.5 331.3 L506.0 330.8 L506.5 330.2 L507.0 330.0 L507.5 330.0 L508.0 329.8 L508.5 329.4 L509.0 328.9 L509.5 328.5 L510.0 328.2 L510.5 327.9 L511.0 327.8 L511.5 327.3 L512.0 326.7 L512.5 326.3 L513.0 325.8 L513.5 325.0 L514.0 324.2 L514.5 323.4 L515.0 322.6 L515.5 321.9 L516.0 321.3 L516.5 320.8 L517.0 320.2 L517.5 319.3 L518.0 318.4 L518.5 317.5 L519.0 316.5 L519.5 315.6 L520.0 314.8 L520.5 313.8 L521.0 312.6 L521.5 311.4 L522.0 309.9 L522.5 308.3 L523.0 306.7 L523.5 305.2 L524.0 303.6 L524.5 301.9 L525.0 300.1 L525.5 298.3 L526.0 296.7 L526.5 295.3 L527.0 293.2 L527.5 290.8 L528.0 288.1 L528.5 284.6 L529.0 280.9 L529.5 277.8 L530.0 274.9 L530.5 272.1 L531.0 270.0 L531.5 268.0 L532.0 266.6 L532.5 265.6 L533.0 264.8 L533.5 263.9 L534.0 263.3 L534.5 262.9 L535.0 262.8 L535.5 263.5 L536.0 264.5 L536.5 265.3 L537.0 266.0 L537.5 266.8 L538.0 267.4 L538.5 268.3 L539.0 269.2 L539.5 269.9 L540.0 270.8 L540.5 271.9 L541.0 273.0 L541.5 274.1 L542.0 275.0 L542.5 275.6 L543.0 276.2 L543.5 276.8 L544.0 276.6 L544.5 276.2 L545.0 276.0 L545.5 275.5 L546.0 274.8 L546.5 274.0 L547.0 273.3 L547.5 272.8 L548.0 272.2 L548.5 271.6 L549.0 271.0 L549.5 270.3 L550.0 269.4 L550.5 268.7 L551.0 268.4 L551.5 268.3 L552.0 268.2 L552.5 268.1 L553.0 267.8 L553.5 267.4 L554.0 267.2 L554.5 267.4 L555.0 267.6 L555.5 267.6 L556.0 267.8 L556.5 268.7 L557.0 269.6 L557.5 270.3 L558.0 271.1 L558.5 272.2 L559.0 273.3 L559.5 274.5 L560.0 275.7 L560.5 276.8 L561.0 277.6 L561.5 278.3 L562.0 279.1 L562.5 280.0 L563.0 281.2 L563.5 282.4 L564.0 283.3 L564.5 284.2 L565.0 285.2 L565.5 286.2 L566.0 287.2 L566.5 288.2 L567.0 289.2 L567.5 290.3 L568.0 291.5 L568.5 292.4 L569.0 293.5 L569.5 294.7 L570.0 295.8 L570.5 296.8 L571.0 297.7 L571.5 298.8 L572.0 299.8 L572.5 300.6 L573.0 301.6 L573.5 302.5 L574.0 303.5 L574.5 304.6 L575.0 305.7 L575.5 306.5 L576.0 307.6 L576.5 308.7 L577.0 309.8 L577.5 310.8 L578.0 311.8 L578.5 312.7 L579.0 313.4 L579.5 314.1 L580.0 314.9 L580.5 315.9 L581.0 316.9 L581.5 317.7 L582.0 318.5 L582.5 319.1 L583.0 319.6 L583.5 320.2 L584.0 320.7 L584.5 321.2 L585.0 321.7 L585.5 322.5 L586.0 323.1 L586.5 323.4 L587.0 323.8 L587.5 324.1 L588.0 324.7 L588.5 325.3 L589.0 325.7 L589.5 326.2 L590.0 326.6 L590.5 326.9 L591.0 327.1 L591.5 327.3 L592.0 327.7 L592.5 328.0 L593.0 328.2 L593.5 328.3 L594.0 328.4 L594.5 328.7 L595.0 329.1 L595.5 329.1 L596.0 329.2 L596.5 329.4 L597.0 329.6 L597.5 329.7 L598.0 329.7 L598.5 329.7 L599.0 330.2 L599.5 330.6 L600.0 330.4 L600.5 330.3 L601.0 330.8 L601.5 331.2 L602.0 331.0 L602.5 330.7 L603.0 330.7 L603.5 330.9 L604.0 331.1 L604.5 331.3 L605.0 331.1 L605.5 330.8 L606.0 331.0 L606.5 331.3 L607.0 331.5 L607.5 331.2 L608.0 331.0 L608.5 331.2 L609.0 331.3 L609.5 331.2 L610.0 331.4 L610.5 331.6 L611.0 331.6 L611.5 331.7 L612.0 331.8 L612.5 331.9 L613.0 331.9 L613.5 331.7 L614.0 331.7 L614.5 331.8 L615.0 331.8 L615.5 331.7 L616.0 331.7 L616.5 331.6 L617.0 331.4 L617.5 331.3 L618.0 331.7 L618.5 332.2 L619.0 332.2 L619.5 332.1 L620.0 331.9 L620.5 331.9 L621.0 332.0 L621.5 332.0 L622.0 332.0 L622.5 332.0 L623.0 332.0 L623.5 332.1 L624.0 332.2 L624.5 332.3 L625.0 332.2 L625.5 332.2 L626.0 332.0 L626.5 331.7 L627.0 331.7 L627.5 331.9 L628.0 332.0 L628.5 332.1 L629.0 332.0 L629.5 332.0 L630.0 332.0 L630.5 332.0 L631.0 332.1 L631.5 332.2 L632.0 332.2 L632.5 332.2 L633.0 332.3 L633.5 332.3 L634.0 332.2 L634.5 332.1 L635.0 332.1 L635.5 332.1 L636.0 332.2 L636.5 332.5 L637.0 332.8 L637.5 332.7 L638.0 332.4 L638.5 332.4 L639.0 332.5 L639.5 332.6 L640.0 332.5 L640.5 332.4 L641.0 332.5 L641.5 332.3 L642.0 332.2 L642.5 332.1 L643.0 331.9 L643.5 332.1 L644.0 332.6 L644.5 332.6 L645.0 332.2 L645.5 332.2 L646.0 332.4 L646.5 332.3 L647.0 332.5 L647.5 332.7 L648.0 332.7 L648.5 332.6 L649.0 332.3 L649.5 332.0 L650.0 331.9 L650.5 332.0 L651.0 332.1 L651.5 332.1 L652.0 332.2 L652.5 332.2 L653.0 332.2 L653.5 332.3 L654.0 332.2 L654.5 332.2 L655.0 332.4 L655.5 332.3 L656.0 332.2 L656.5 332.3 L657.0 332.2 L657.5 332.3 L658.0 332.4 L658.5 332.2 L659.0 332.1 L659.5 332.1 L660.0 332.1 L660.5 332.1 L661.0 332.3 L661.5 332.2 L662.0 332.2 L662.5 332.4 L663.0 332.1 L663.5 332.0 L664.0 332.1 L664.5 332.2 L665.0 332.4 L665.5 332.5 L666.0 332.4 L666.5 332.5 L667.0 332.6 L667.5 332.5 L668.0 332.3 L668.5 332.2 L669.0 332.2 L669.5 332.3 L670.0 332.5 L670.5 332.4 L671.0 332.1 L671.5 332.3 L672.0 332.3 L672.5 332.2 L673.0 332.1 L673.5 332.0 L674.0 332.0 L674.5 332.2 L675.0 332.1 L675.5 332.1 L676.0 332.2 L676.5 332.1 L677.0 332.0 L677.5 332.2 L678.0 332.4 L678.5 332.4 L679.0 332.3" fill="none" stroke="#111" stroke-width="1.8" stroke-linejoin="round"/>
<path d="M380.5 347.4 L381.0 347.7 L381.5 347.5 L382.0 347.4 L382.5 347.5 L383.0 347.5 L383.5 347.4 L384.0 347.7 L384.5 347.8 L385.0 347.6 L385.5 347.7 L386.0 347.8 L386.5 347.6 L387.0 347.6 L387.5 347.5 L388.0 347.3 L388.5 347.4 L389.0 347.5 L389.5 347.4 L390.0 347.4 L390.5 347.4 L391.0 347.2 L391.5 347.2 L392.0 347.3 L392.5 347.3 L393.0 347.5 L393.5 347.7 L394.0 347.7 L394.5 347.6 L395.0 347.5 L395.5 347.3 L396.0 347.3 L396.5 347.3 L397.0 347.4 L397.5 347.5 L398.0 347.4 L398.5 347.3 L399.0 347.3 L399.5 347.4 L400.0 347.4 L400.5 347.4 L401.0 347.6 L401.5 347.4 L402.0 347.0 L402.5 346.9 L403.0 346.8 L403.5 346.8 L404.0 346.9 L404.5 346.9 L405.0 347.0 L405.5 347.0 L406.0 347.1 L406.5 347.4 L407.0 347.2 L407.5 347.2 L408.0 347.3 L408.5 347.2 L409.0 347.1 L409.5 347.0 L410.0 347.0 L410.5 347.1 L411.0 347.0 L411.5 347.0 L412.0 347.1 L412.5 347.2 L413.0 347.2 L413.5 347.0 L414.0 346.9 L414.5 347.1 L415.0 347.1 L415.5 346.7 L416.0 346.5 L416.5 346.7 L417.0 347.0 L417.5 346.9 L418.0 346.8 L418.5 346.8 L419.0 346.7 L419.5 346.6 L420.0 346.6 L420.5 346.5 L421.0 346.3 L421.5 346.1 L422.0 345.9 L422.5 345.7 L423.0 345.4 L423.5 345.1 L424.0 344.8 L424.5 344.8 L425.0 344.7 L425.5 344.5 L426.0 344.4 L426.5 344.7 L427.0 344.9 L427.5 345.0 L428.0 345.0 L428.5 345.2 L429.0 345.3 L429.5 345.3 L430.0 345.1 L430.5 345.1 L431.0 345.3 L431.5 345.4 L432.0 345.6 L432.5 345.7 L433.0 345.7 L433.5 345.7 L434.0 345.7 L434.5 345.6 L435.0 345.5 L435.5 345.7 L436.0 345.8 L436.5 345.5 L437.0 345.3 L437.5 345.2 L438.0 345.2 L438.5 345.3 L439.0 345.3 L439.5 345.2 L440.0 344.8 L440.5 344.2 L441.0 343.7 L441.5 343.6 L442.0 343.6 L442.5 343.8 L443.0 344.0 L443.5 344.2 L444.0 344.3 L444.5 344.3 L445.0 344.4 L445.5 344.7 L446.0 345.0 L446.5 345.1 L447.0 345.2 L447.5 345.2 L448.0 345.2 L448.5 345.3 L449.0 345.4 L449.5 345.6 L450.0 345.6 L450.5 345.4 L451.0 345.5 L451.5 345.8 L452.0 346.0 L452.5 345.8 L453.0 345.8 L453.5 346.0 L454.0 345.9 L454.5 345.7 L455.0 345.7 L455.5 345.6 L456.0 345.4 L456.5 345.6 L457.0 345.7 L457.5 345.9 L458.0 346.1 L458.5 346.1 L459.0 346.2 L459.5 346.5 L460.0 346.6 L460.5 346.5 L461.0 346.4 L461.5 346.2 L462.0 346.2 L462.5 346.2 L463.0 346.2 L463.5 346.5 L464.0 346.8 L464.5 346.9 L465.0 346.6 L465.5 346.2 L466.0 346.3 L466.5 346.5 L467.0 346.6 L467.5 346.6 L468.0 346.4 L468.5 346.4 L469.0 346.5 L469.5 346.6 L470.0 346.7 L470.5 346.6 L471.0 346.7 L471.5 346.9 L472.0 347.0 L472.5 346.9 L473.0 346.4 L473.5 346.2 L474.0 346.3 L474.5 346.2 L475.0 346.2 L475.5 346.5 L476.0 346.7 L476.5 346.7 L477.0 346.6 L477.5 346.6 L478.0 346.6 L478.5 346.6 L479.0 346.6 L479.5 346.4 L480.0 346.3 L480.5 346.3 L481.0 346.5 L481.5 346.3 L482.0 346.0 L482.5 345.9 L483.0 346.3 L483.5 346.6 L484.0 346.4 L484.5 345.9 L485.0 346.0 L485.5 346.5 L486.0 346.2 L486.5 346.0 L487.0 346.1 L487.5 346.4 L488.0 346.4 L488.5 346.2 L489.0 346.0 L489.5 346.1 L490.0 346.0 L490.5 346.1 L491.0 346.2 L491.5 346.1 L492.0 345.9 L492.5 345.9 L493.0 346.0 L493.5 345.9 L494.0 345.7 L494.5 345.7 L495.0 345.8 L495.5 346.0 L496.0 346.2 L496.5 346.2 L497.0 346.0 L497.5 345.9 L498.0 345.8 L498.5 345.8 L499.0 345.8 L499.5 345.8 L500.0 345.8 L500.5 345.7 L501.0 345.7 L501.5 345.7 L502.0 345.6 L502.5 345.8 L503.0 345.7 L503.5 345.4 L504.0 345.3 L504.5 345.4 L505.0 345.3 L505.5 345.2 L506.0 345.0 L506.5 344.8 L507.0 344.5 L507.5 344.5 L508.0 344.5 L508.5 344.2 L509.0 343.6 L509.5 343.1 L510.0 342.7 L510.5 342.6 L511.0 342.5 L511.5 341.9 L512.0 341.5 L512.5 341.4 L513.0 341.1 L513.5 340.9 L514.0 340.8 L514.5 340.4 L515.0 340.1 L515.5 339.8 L516.0 339.3 L516.5 338.8 L517.0 338.3 L517.5 337.8 L518.0 337.4 L518.5 336.8 L519.0 336.1 L519.5 335.5 L520.0 334.8 L520.5 334.3 L521.0 333.8 L521.5 333.4 L522.0 332.6 L522.5 331.7 L523.0 331.0 L523.5 330.3 L524.0 329.6 L524.5 328.8 L525.0 328.1 L525.5 327.1 L526.0 326.3 L526.5 325.4 L527.0 324.0 L527.5 322.3 L528.0 320.7 L528.5 319.0 L529.0 316.7 L529.5 313.9 L530.0 311.5 L530.5 309.5 L531.0 307.7 L531.5 306.2 L532.0 305.6 L532.5 305.3 L533.0 305.1 L533.5 305.0 L534.0 305.0 L534.5 304.9 L535.0 304.6 L535.5 304.8 L536.0 305.4 L536.5 306.0 L537.0 306.8 L537.5 307.4 L538.0 307.9 L538.5 308.6 L539.0 309.2 L539.5 309.5 L540.0 309.9 L540.5 310.4 L541.0 310.9 L541.5 311.3 L542.0 311.7 L542.5 312.0 L543.0 312.0 L543.5 312.2 L544.0 312.1 L544.5 311.9 L545.0 311.4 L545.5 310.9 L546.0 310.4 L546.5 310.0 L547.0 309.6 L547.5 309.1 L548.0 308.6 L548.5 308.1 L549.0 307.6 L549.5 307.1 L550.0 306.7 L550.5 306.5 L551.0 306.5 L551.5 306.3 L552.0 306.0 L552.5 305.8 L553.0 305.6 L553.5 305.4 L554.0 305.2 L554.5 305.2 L555.0 305.3 L555.5 305.5 L556.0 305.8 L556.5 306.4 L557.0 307.2 L557.5 308.3 L558.0 309.0 L558.5 309.5 L559.0 310.2 L559.5 310.9 L560.0 311.7 L560.5 312.6 L561.0 313.3 L561.5 314.0 L562.0 314.9 L562.5 315.8 L563.0 316.5 L563.5 317.1 L564.0 317.6 L564.5 318.4 L565.0 319.1 L565.5 320.0 L566.0 321.1 L566.5 322.0 L567.0 322.3 L567.5 322.9 L568.0 323.8 L568.5 324.4 L569.0 324.9 L569.5 325.6 L570.0 326.2 L570.5 326.9 L571.0 327.7 L571.5 328.3 L572.0 328.8 L572.5 329.3 L573.0 329.9 L573.5 330.5 L574.0 330.9 L574.5 331.2 L575.0 331.7 L575.5 332.4 L576.0 333.1 L576.5 333.6 L577.0 333.8 L577.5 334.3 L578.0 335.1 L578.5 335.6 L579.0 335.8 L579.5 336.0 L580.0 336.5 L580.5 337.2 L581.0 337.9 L581.5 338.2 L582.0 338.4 L582.5 338.7 L583.0 339.1 L583.5 339.5 L584.0 339.9 L584.5 340.3 L585.0 340.7 L585.5 340.9 L586.0 341.0 L586.5 341.3 L587.0 341.4 L587.5 341.5 L588.0 341.6 L588.5 341.9 L589.0 342.1 L589.5 342.3 L590.0 342.3 L590.5 342.2 L591.0 342.2 L591.5 342.5 L592.0 342.8 L592.5 342.8 L593.0 342.8 L593.5 343.0 L594.0 343.2 L594.5 343.4 L595.0 343.3 L595.5 343.2 L596.0 343.6 L596.5 344.1 L597.0 343.9 L597.5 343.8 L598.0 343.8 L598.5 343.7 L599.0 344.0 L599.5 344.0 L600.0 343.9 L600.5 344.0 L601.0 344.0 L601.5 344.0 L602.0 343.9 L602.5 344.1 L603.0 344.2 L603.5 344.1 L604.0 344.0 L604.5 344.1 L605.0 344.2 L605.5 344.1 L606.0 344.1 L606.5 344.4 L607.0 344.5 L607.5 344.5 L608.0 344.5 L608.5 344.6 L609.0 344.8 L609.5 344.6 L610.0 344.5 L610.5 344.5 L611.0 344.6 L611.5 344.8 L612.0 344.8 L612.5 344.8 L613.0 344.8 L613.5 344.8 L614.0 345.0 L614.5 345.1 L615.0 345.3 L615.5 345.2 L616.0 345.2 L616.5 345.5 L617.0 345.4 L617.5 345.1 L618.0 345.1 L618.5 345.4 L619.0 345.5 L619.5 345.3 L620.0 345.1 L620.5 345.0 L621.0 345.1 L621.5 345.3 L622.0 345.3 L622.5 345.1 L623.0 345.0 L623.5 345.2 L624.0 345.0 L624.5 344.7 L625.0 344.9 L625.5 345.4 L626.0 345.4 L626.5 344.9 L627.0 345.0 L627.5 345.2 L628.0 345.1 L628.5 345.1 L629.0 345.2 L629.5 345.2 L630.0 345.2 L630.5 345.2 L631.0 345.3 L631.5 345.4 L632.0 345.6 L632.5 345.7 L633.0 345.8 L633.5 345.7 L634.0 345.4 L634.5 345.5 L635.0 345.7 L635.5 345.5 L636.0 345.2 L636.5 345.4 L637.0 345.8 L637.5 346.0 L638.0 345.9 L638.5 345.7 L639.0 345.6 L639.5 345.5 L640.0 345.3 L640.5 345.3 L641.0 345.5 L641.5 345.5 L642.0 345.8 L642.5 346.0 L643.0 345.9 L643.5 345.6 L644.0 345.6 L644.5 345.8 L645.0 345.9 L645.5 346.0 L646.0 346.0 L646.5 345.8 L647.0 345.9 L647.5 346.0 L648.0 346.0 L648.5 345.9 L649.0 345.8 L649.5 345.9 L650.0 346.2 L650.5 346.2 L651.0 345.8 L651.5 345.7 L652.0 346.0 L652.5 346.1 L653.0 346.2 L653.5 346.5 L654.0 346.4 L654.5 345.9 L655.0 346.0 L655.5 346.2 L656.0 345.9 L656.5 345.8 L657.0 346.0 L657.5 346.2 L658.0 346.3 L658.5 346.2 L659.0 346.2 L659.5 346.5 L660.0 346.7 L660.5 346.6 L661.0 346.4 L661.5 346.4 L662.0 346.3 L662.5 346.0 L663.0 345.9 L663.5 346.0 L664.0 346.0 L664.5 346.1 L665.0 346.1 L665.5 346.2 L666.0 346.2 L666.5 346.0 L667.0 346.0 L667.5 346.3 L668.0 346.5 L668.5 346.5 L669.0 346.4 L669.5 346.3 L670.0 346.1 L670.5 346.0 L671.0 346.2 L671.5 346.4 L672.0 346.4 L672.5 346.4 L673.0 346.4 L673.5 346.4 L674.0 346.6 L674.5 346.5 L675.0 346.2 L675.5 346.2 L676.0 346.2 L676.5 346.2 L677.0 346.4 L677.5 346.5 L678.0 346.5 L678.5 346.4 L679.0 346.3" fill="none" stroke="#111" stroke-width="1.8" stroke-linejoin="round"/>
<path d="M380.5 364.9 L381.0 364.8 L381.5 364.8 L382.0 364.9 L382.5 364.8 L383.0 364.7 L383.5 364.7 L384.0 364.9 L384.5 364.8 L385.0 364.7 L385.5 364.7 L386.0 364.7 L386.5 364.8 L387.0 365.0 L387.5 364.9 L388.0 364.7 L388.5 364.8 L389.0 364.6 L389.5 364.7 L390.0 364.9 L390.5 364.9 L391.0 364.9 L391.5 364.8 L392.0 364.8 L392.5 364.9 L393.0 364.8 L393.5 364.8 L394.0 364.8 L394.5 364.7 L395.0 364.5 L395.5 364.7 L396.0 365.2 L396.5 365.2 L397.0 364.7 L397.5 364.8 L398.0 364.9 L398.5 364.8 L399.0 364.7 L399.5 364.6 L400.0 364.7 L400.5 364.8 L401.0 364.7 L401.5 364.6 L402.0 364.5 L402.5 364.4 L403.0 364.4 L403.5 364.5 L404.0 364.5 L404.5 364.7 L405.0 364.7 L405.5 364.4 L406.0 364.3 L406.5 364.5 L407.0 364.5 L407.5 364.5 L408.0 364.5 L408.5 364.4 L409.0 364.4 L409.5 364.7 L410.0 364.8 L410.5 364.7 L411.0 364.6 L411.5 364.7 L412.0 364.8 L412.5 364.7 L413.0 364.6 L413.5 364.6 L414.0 364.6 L414.5 364.8 L415.0 364.8 L415.5 364.6 L416.0 364.6 L416.5 364.5 L417.0 364.4 L417.5 364.6 L418.0 364.7 L418.5 364.6 L419.0 364.4 L419.5 364.2 L420.0 364.2 L420.5 364.2 L421.0 364.0 L421.5 363.9 L422.0 363.6 L422.5 363.2 L423.0 363.0 L423.5 362.7 L424.0 362.3 L424.5 361.9 L425.0 361.8 L425.5 361.9 L426.0 362.1 L426.5 362.4 L427.0 362.6 L427.5 362.6 L428.0 362.9 L428.5 363.0 L429.0 363.0 L429.5 363.3 L430.0 363.6 L430.5 363.5 L431.0 363.5 L431.5 363.6 L432.0 363.7 L432.5 363.9 L433.0 363.9 L433.5 363.7 L434.0 363.7 L434.5 363.7 L435.0 363.6 L435.5 363.5 L436.0 363.5 L436.5 363.6 L437.0 363.4 L437.5 363.3 L438.0 363.2 L438.5 363.0 L439.0 362.7 L439.5 362.3 L440.0 361.9 L440.5 361.5 L441.0 361.4 L441.5 361.4 L442.0 361.5 L442.5 361.8 L443.0 362.0 L443.5 362.2 L444.0 362.4 L444.5 362.4 L445.0 362.4 L445.5 362.6 L446.0 362.9 L446.5 362.9 L447.0 362.7 L447.5 362.6 L448.0 362.8 L448.5 363.0 L449.0 363.3 L449.5 363.5 L450.0 363.4 L450.5 363.2 L451.0 363.3 L451.5 363.4 L452.0 363.1 L452.5 363.0 L453.0 363.0 L453.5 363.5 L454.0 363.8 L454.5 363.7 L455.0 363.8 L455.5 363.9 L456.0 363.6 L456.5 363.5 L457.0 363.7 L457.5 363.7 L458.0 363.5 L458.5 363.6 L459.0 363.9 L459.5 363.8 L460.0 363.9 L460.5 364.0 L461.0 363.8 L461.5 363.8 L462.0 363.7 L462.5 363.7 L463.0 363.6 L463.5 363.6 L464.0 363.7 L464.5 364.0 L465.0 364.1 L465.5 364.0 L466.0 364.0 L466.5 364.3 L467.0 364.2 L467.5 364.0 L468.0 364.0 L468.5 364.0 L469.0 363.9 L469.5 363.9 L470.0 363.8 L470.5 363.8 L471.0 363.8 L471.5 364.0 L472.0 364.2 L472.5 364.2 L473.0 364.3 L473.5 364.3 L474.0 364.4 L474.5 364.2 L475.0 364.1 L475.5 364.2 L476.0 364.2 L476.5 364.0 L477.0 363.9 L477.5 363.9 L478.0 364.0 L478.5 364.2 L479.0 364.2 L479.5 364.1 L480.0 364.1 L480.5 363.9 L481.0 363.8 L481.5 363.9 L482.0 364.1 L482.5 364.1 L483.0 364.1 L483.5 364.1 L484.0 364.1 L484.5 364.1 L485.0 364.1 L485.5 363.8 L486.0 363.7 L486.5 363.7 L487.0 363.8 L487.5 363.9 L488.0 364.1 L488.5 364.1 L489.0 363.9 L489.5 363.7 L490.0 363.8 L490.5 363.8 L491.0 363.8 L491.5 363.7 L492.0 363.6 L492.5 363.6 L493.0 363.4 L493.5 363.4 L494.0 363.5 L494.5 363.6 L495.0 363.7 L495.5 363.5 L496.0 363.4 L496.5 363.7 L497.0 363.7 L497.5 363.3 L498.0 363.2 L498.5 363.4 L499.0 363.3 L499.5 363.1 L500.0 363.3 L500.5 363.3 L501.0 363.3 L501.5 363.3 L502.0 363.0 L502.5 362.9 L503.0 363.0 L503.5 363.0 L504.0 362.9 L504.5 362.8 L505.0 362.7 L505.5 362.4 L506.0 362.1 L506.5 362.0 L507.0 361.9 L507.5 361.5 L508.0 361.3 L508.5 361.2 L509.0 361.0 L509.5 360.6 L510.0 360.5 L510.5 360.6 L511.0 360.6 L511.5 360.3 L512.0 359.9 L512.5 359.6 L513.0 359.4 L513.5 359.0 L514.0 358.7 L514.5 358.6 L515.0 358.4 L515.5 357.9 L516.0 357.7 L516.5 357.4 L517.0 357.1 L517.5 356.8 L518.0 356.4 L518.5 355.9 L519.0 355.7 L519.5 355.4 L520.0 354.9 L520.5 354.4 L521.0 354.1 L521.5 354.0 L522.0 353.6 L522.5 353.1 L523.0 352.9 L523.5 352.6 L524.0 352.2 L524.5 351.5 L525.0 351.1 L525.5 351.0 L526.0 350.5 L526.5 349.7 L527.0 348.7 L527.5 347.5 L528.0 346.1 L528.5 344.5 L529.0 343.0 L529.5 341.3 L530.0 339.4 L530.5 338.3 L531.0 337.6 L531.5 337.1 L532.0 337.0 L532.5 336.6 L533.0 336.2 L533.5 336.0 L534.0 335.7 L534.5 335.6 L535.0 335.8 L535.5 336.0 L536.0 336.0 L536.5 336.3 L537.0 336.8 L537.5 337.1 L538.0 337.5 L538.5 337.8 L539.0 338.0 L539.5 338.5 L540.0 339.0 L540.5 339.6 L541.0 340.1 L541.5 340.5 L542.0 340.9 L542.5 341.2 L543.0 341.4 L543.5 341.8 L544.0 342.0 L544.5 342.0 L545.0 341.8 L545.5 341.5 L546.0 341.2 L546.5 340.9 L547.0 340.6 L547.5 340.2 L548.0 339.7 L548.5 339.6 L549.0 339.4 L549.5 338.9 L550.0 338.5 L550.5 338.0 L551.0 337.9 L551.5 337.9 L552.0 337.5 L552.5 337.1 L553.0 336.6 L553.5 336.3 L554.0 336.4 L554.5 336.5 L555.0 336.6 L555.5 336.6 L556.0 336.4 L556.5 336.3 L557.0 336.3 L557.5 336.7 L558.0 337.3 L558.5 337.9 L559.0 338.4 L559.5 338.7 L560.0 338.8 L560.5 339.0 L561.0 339.3 L561.5 339.8 L562.0 340.3 L562.5 340.9 L563.0 341.1 L563.5 341.4 L564.0 342.2 L564.5 343.3 L565.0 343.8 L565.5 343.9 L566.0 344.5 L566.5 345.2 L567.0 345.7 L567.5 346.0 L568.0 346.3 L568.5 346.8 L569.0 347.6 L569.5 348.2 L570.0 348.7 L570.5 349.3 L571.0 349.6 L571.5 350.0 L572.0 350.5 L572.5 351.0 L573.0 351.5 L573.5 352.0 L574.0 352.3 L574.5 352.8 L575.0 353.4 L575.5 353.8 L576.0 353.9 L576.5 354.1 L577.0 354.7 L577.5 355.3 L578.0 355.5 L578.5 355.4 L579.0 355.9 L579.5 356.4 L580.0 356.7 L580.5 356.9 L581.0 357.1 L581.5 357.2 L582.0 357.3 L582.5 357.6 L583.0 357.7 L583.5 357.9 L584.0 358.3 L584.5 358.5 L585.0 358.7 L585.5 359.1 L586.0 359.3 L586.5 359.5 L587.0 359.8 L587.5 359.9 L588.0 359.9 L588.5 360.1 L589.0 360.3 L589.5 360.4 L590.0 360.3 L590.5 360.1 L591.0 360.4 L591.5 360.7 L592.0 360.7 L592.5 360.8 L593.0 361.0 L593.5 361.1 L594.0 361.4 L594.5 361.6 L595.0 361.6 L595.5 361.6 L596.0 361.5 L596.5 361.5 L597.0 361.6 L597.5 361.7 L598.0 361.9 L598.5 362.2 L599.0 362.3 L599.5 362.3 L600.0 362.3 L600.5 362.3 L601.0 362.3 L601.5 362.6 L602.0 362.4 L602.5 362.2 L603.0 362.4 L603.5 362.6 L604.0 362.4 L604.5 362.5 L605.0 362.7 L605.5 362.9 L606.0 362.9 L606.5 362.6 L607.0 362.7 L607.5 363.1 L608.0 363.3 L608.5 363.2 L609.0 363.1 L609.5 362.9 L610.0 362.7 L610.5 362.8 L611.0 362.8 L611.5 362.6 L612.0 362.8 L612.5 363.2 L613.0 363.3 L613.5 363.1 L614.0 363.1 L614.5 363.2 L615.0 363.1 L615.5 363.2 L616.0 363.4 L616.5 363.4 L617.0 363.0 L617.5 362.8 L618.0 363.0 L618.5 363.3 L619.0 363.2 L619.5 363.1 L620.0 363.1 L620.5 363.3 L621.0 363.4 L621.5 363.4 L622.0 363.5 L622.5 363.6 L623.0 363.5 L623.5 363.3 L624.0 363.2 L624.5 363.3 L625.0 363.5 L625.5 363.7 L626.0 363.6 L626.5 363.5 L627.0 363.6 L627.5 363.6 L628.0 363.5 L628.5 363.5 L629.0 363.4 L629.5 363.6 L630.0 363.9 L630.5 363.9 L631.0 363.8 L631.5 363.8 L632.0 363.6 L632.5 363.4 L633.0 363.4 L633.5 363.5 L634.0 363.7 L634.5 363.9 L635.0 363.9 L635.5 363.6 L636.0 363.4 L636.5 363.5 L637.0 363.6 L637.5 363.6 L638.0 363.7 L638.5 363.6 L639.0 363.6 L639.5 363.7 L640.0 363.8 L640.5 363.7 L641.0 363.7 L641.5 363.6 L642.0 363.7 L642.5 363.6 L643.0 363.5 L643.5 363.5 L644.0 363.5 L644.5 363.5 L645.0 363.6 L645.5 363.9 L646.0 363.9 L646.5 363.8 L647.0 363.7 L647.5 363.7 L648.0 363.7 L648.5 363.6 L649.0 363.5 L649.5 363.5 L650.0 363.8 L650.5 363.9 L651.0 363.9 L651.5 363.6 L652.0 363.3 L652.5 363.5 L653.0 363.7 L653.5 363.6 L654.0 363.4 L654.5 363.5 L655.0 363.6 L655.5 363.4 L656.0 363.2 L656.5 363.1 L657.0 363.0 L657.5 363.2 L658.0 363.3 L658.5 363.3 L659.0 363.4 L659.5 363.5 L660.0 363.6 L660.5 363.4 L661.0 363.2 L661.5 363.0 L662.0 363.0 L662.5 363.1 L663.0 363.3 L663.5 363.4 L664.0 363.3 L664.5 363.3 L665.0 363.2 L665.5 363.1 L666.0 363.1 L666.5 363.1 L667.0 363.1 L667.5 363.1 L668.0 363.1 L668.5 362.9 L669.0 363.0 L669.5 363.3 L670.0 363.3 L670.5 363.2 L671.0 363.1 L671.5 363.0 L672.0 363.0 L672.5 363.0 L673.0 363.1 L673.5 363.2 L674.0 363.1 L674.5 363.1 L675.0 363.2 L675.5 363.3 L676.0 363.1 L676.5 362.7 L677.0 362.8 L677.5 363.1 L678.0 363.0 L678.5 362.9 L679.0 362.9" fill="none" stroke="#111" stroke-width="1.8" stroke-linejoin="round"/>
<path d="M380.5 380.6 L381.0 380.4 L381.5 380.4 L382.0 380.5 L382.5 380.3 L383.0 380.2 L383.5 380.5 L384.0 380.6 L384.5 380.3 L385.0 380.4 L385.5 380.5 L386.0 380.6 L386.5 380.7 L387.0 380.6 L387.5 380.3 L388.0 380.4 L388.5 380.6 L389.0 380.5 L389.5 380.5 L390.0 380.4 L390.5 380.4 L391.0 380.3 L391.5 380.2 L392.0 380.4 L392.5 380.8 L393.0 380.6 L393.5 380.1 L394.0 379.8 L394.5 380.2 L395.0 380.5 L395.5 380.4 L396.0 380.2 L396.5 380.0 L397.0 380.0 L397.5 379.9 L398.0 379.9 L398.5 380.2 L399.0 380.4 L399.5 380.3 L400.0 380.1 L400.5 380.0 L401.0 380.0 L401.5 380.0 L402.0 380.0 L402.5 380.0 L403.0 380.0 L403.5 380.1 L404.0 380.2 L404.5 380.1 L405.0 380.0 L405.5 380.0 L406.0 380.0 L406.5 379.8 L407.0 379.8 L407.5 379.8 L408.0 379.7 L408.5 379.8 L409.0 379.9 L409.5 379.8 L410.0 379.7 L410.5 379.7 L411.0 379.9 L411.5 380.1 L412.0 380.2 L412.5 380.2 L413.0 380.3 L413.5 380.2 L414.0 380.0 L414.5 379.9 L415.0 379.9 L415.5 379.8 L416.0 379.9 L416.5 379.9 L417.0 379.9 L417.5 379.9 L418.0 379.8 L418.5 379.6 L419.0 379.6 L419.5 379.6 L420.0 379.4 L420.5 379.4 L421.0 379.4 L421.5 379.2 L422.0 378.8 L422.5 378.6 L423.0 378.4 L423.5 378.2 L424.0 378.1 L424.5 377.9 L425.0 377.7 L425.5 377.7 L426.0 377.9 L426.5 378.0 L427.0 378.2 L427.5 378.4 L428.0 378.6 L428.5 378.5 L429.0 378.3 L429.5 378.4 L430.0 378.8 L430.5 378.9 L431.0 378.9 L431.5 379.2 L432.0 379.4 L432.5 379.5 L433.0 379.5 L433.5 379.4 L434.0 379.4 L434.5 379.4 L435.0 379.3 L435.5 379.3 L436.0 379.3 L436.5 379.2 L437.0 378.9 L437.5 378.7 L438.0 378.7 L438.5 378.6 L439.0 378.4 L439.5 378.4 L440.0 378.3 L440.5 378.1 L441.0 378.0 L441.5 378.0 L442.0 377.8 L442.5 377.9 L443.0 377.9 L443.5 377.7 L444.0 377.7 L444.5 378.1 L445.0 378.3 L445.5 378.4 L446.0 378.5 L446.5 378.6 L447.0 378.6 L447.5 378.5 L448.0 378.7 L448.5 378.8 L449.0 378.7 L449.5 378.6 L450.0 378.6 L450.5 378.7 L451.0 378.8 L451.5 378.8 L452.0 378.7 L452.5 378.7 L453.0 378.8 L453.5 378.9 L454.0 379.2 L454.5 379.4 L455.0 379.3 L455.5 379.3 L456.0 379.5 L456.5 379.3 L457.0 379.1 L457.5 379.2 L458.0 379.3 L458.5 379.4 L459.0 379.2 L459.5 379.0 L460.0 379.2 L460.5 379.6 L461.0 379.5 L461.5 379.2 L462.0 379.2 L462.5 379.2 L463.0 378.9 L463.5 378.8 L464.0 379.2 L464.5 379.2 L465.0 379.2 L465.5 379.2 L466.0 379.3 L466.5 379.5 L467.0 379.6 L467.5 379.6 L468.0 379.5 L468.5 379.6 L469.0 379.7 L469.5 379.4 L470.0 379.3 L470.5 379.7 L471.0 379.9 L471.5 379.6 L472.0 379.4 L472.5 379.6 L473.0 379.6 L473.5 379.3 L474.0 379.4 L474.5 379.6 L475.0 379.5 L475.5 379.3 L476.0 379.4 L476.5 379.4 L477.0 379.4 L477.5 379.5 L478.0 379.6 L478.5 379.7 L479.0 379.6 L479.5 379.5 L480.0 379.7 L480.5 379.5 L481.0 379.3 L481.5 379.4 L482.0 379.6 L482.5 379.6 L483.0 379.6 L483.5 379.8 L484.0 379.7 L484.5 379.4 L485.0 379.2 L485.5 379.4 L486.0 379.6 L486.5 379.5 L487.0 379.3 L487.5 379.1 L488.0 379.0 L488.5 379.2 L489.0 379.7 L489.5 379.9 L490.0 379.7 L490.5 379.4 L491.0 379.5 L491.5 379.8 L492.0 379.7 L492.5 379.5 L493.0 379.3 L493.5 379.2 L494.0 379.4 L494.5 379.6 L495.0 379.4 L495.5 379.3 L496.0 379.3 L496.5 379.4 L497.0 379.4 L497.5 379.2 L498.0 379.2 L498.5 379.3 L499.0 379.4 L499.5 379.3 L500.0 379.1 L500.5 379.1 L501.0 379.3 L501.5 379.5 L502.0 379.4 L502.5 379.2 L503.0 378.9 L503.5 378.6 L504.0 378.6 L504.5 378.8 L505.0 378.9 L505.5 378.9 L506.0 378.8 L506.5 378.5 L507.0 378.4 L507.5 378.3 L508.0 378.0 L508.5 377.7 L509.0 377.9 L509.5 377.9 L510.0 377.7 L510.5 377.8 L511.0 377.8 L511.5 377.5 L512.0 377.4 L512.5 377.2 L513.0 377.2 L513.5 377.3 L514.0 377.2 L514.5 376.9 L515.0 376.6 L515.5 376.4 L516.0 376.1 L516.5 375.8 L517.0 375.6 L517.5 375.4 L518.0 375.2 L518.5 375.1 L519.0 374.9 L519.5 374.7 L520.0 374.4 L520.5 374.3 L521.0 374.0 L521.5 373.4 L522.0 372.9 L522.5 372.6 L523.0 372.5 L523.5 372.5 L524.0 372.0 L524.5 371.4 L525.0 370.9 L525.5 370.4 L526.0 370.0 L526.5 369.5 L527.0 368.8 L527.5 368.3 L528.0 367.8 L528.5 367.4 L529.0 366.7 L529.5 365.9 L530.0 365.2 L530.5 364.4 L531.0 363.4 L531.5 362.7 L532.0 362.0 L532.5 361.2 L533.0 360.7 L533.5 360.7 L534.0 360.7 L534.5 360.8 L535.0 361.0 L535.5 361.2 L536.0 361.5 L536.5 361.6 L537.0 361.5 L537.5 361.5 L538.0 361.8 L538.5 362.2 L539.0 362.4 L539.5 362.6 L540.0 362.8 L540.5 362.7 L541.0 362.9 L541.5 363.2 L542.0 363.4 L542.5 363.5 L543.0 363.8 L543.5 364.1 L544.0 364.3 L544.5 364.3 L545.0 364.2 L545.5 364.0 L546.0 364.1 L546.5 364.1 L547.0 363.8 L547.5 363.5 L548.0 363.1 L548.5 362.7 L549.0 362.5 L549.5 362.3 L550.0 362.0 L550.5 361.7 L551.0 361.3 L551.5 361.1 L552.0 361.1 L552.5 361.0 L553.0 360.9 L553.5 361.0 L554.0 361.0 L554.5 360.8 L555.0 360.7 L555.5 360.8 L556.0 360.9 L556.5 361.0 L557.0 361.3 L557.5 361.5 L558.0 361.6 L558.5 361.9 L559.0 362.3 L559.5 362.6 L560.0 362.8 L560.5 362.9 L561.0 363.3 L561.5 363.8 L562.0 364.0 L562.5 364.1 L563.0 364.4 L563.5 364.8 L564.0 365.2 L564.5 365.5 L565.0 366.0 L565.5 366.4 L566.0 366.6 L566.5 367.0 L567.0 367.1 L567.5 367.4 L568.0 367.8 L568.5 368.0 L569.0 368.3 L569.5 368.6 L570.0 369.0 L570.5 369.4 L571.0 369.8 L571.5 370.4 L572.0 370.9 L572.5 371.2 L573.0 371.6 L573.5 371.9 L574.0 372.2 L574.5 372.6 L575.0 372.9 L575.5 373.1 L576.0 373.4 L576.5 373.4 L577.0 373.5 L577.5 374.0 L578.0 374.5 L578.5 374.8 L579.0 374.8 L579.5 374.9 L580.0 374.9 L580.5 374.9 L581.0 375.2 L581.5 375.5 L582.0 375.7 L582.5 376.0 L583.0 376.1 L583.5 375.9 L584.0 376.2 L584.5 376.7 L585.0 376.7 L585.5 376.5 L586.0 376.7 L586.5 377.0 L587.0 377.0 L587.5 377.0 L588.0 376.9 L588.5 376.9 L589.0 377.1 L589.5 377.4 L590.0 377.7 L590.5 377.7 L591.0 377.8 L591.5 377.9 L592.0 377.9 L592.5 377.6 L593.0 377.2 L593.5 377.3 L594.0 377.7 L594.5 377.9 L595.0 377.8 L595.5 377.6 L596.0 377.4 L596.5 377.3 L597.0 377.4 L597.5 377.5 L598.0 377.5 L598.5 377.5 L599.0 377.8 L599.5 377.9 L600.0 377.8 L600.5 377.8 L601.0 377.7 L601.5 377.7 L602.0 377.8 L602.5 377.7 L603.0 377.7 L603.5 377.9 L604.0 378.0 L604.5 377.8 L605.0 377.7 L605.5 377.9 L606.0 377.8 L606.5 377.6 L607.0 377.7 L607.5 377.7 L608.0 377.7 L608.5 378.0 L609.0 378.2 L609.5 378.0 L610.0 377.9 L610.5 378.0 L611.0 377.9 L611.5 377.9 L612.0 378.0 L612.5 377.9 L613.0 377.9 L613.5 378.3 L614.0 378.1 L614.5 377.9 L615.0 378.2 L615.5 378.4 L616.0 378.2 L616.5 377.9 L617.0 378.0 L617.5 378.1 L618.0 378.0 L618.5 377.9 L619.0 377.8 L619.5 378.0 L620.0 378.2 L620.5 378.1 L621.0 378.1 L621.5 378.3 L622.0 378.4 L622.5 378.3 L623.0 378.2 L623.5 378.3 L624.0 378.6 L624.5 378.4 L625.0 378.1 L625.5 378.0 L626.0 378.0 L626.5 378.1 L627.0 378.3 L627.5 378.6 L628.0 378.5 L628.5 378.3 L629.0 378.3 L629.5 378.1 L630.0 377.8 L630.5 377.7 L631.0 378.1 L631.5 378.4 L632.0 378.4 L632.5 378.4 L633.0 378.2 L633.5 378.0 L634.0 378.0 L634.5 378.3 L635.0 378.4 L635.5 378.2 L636.0 377.8 L636.5 377.8 L637.0 378.1 L637.5 378.1 L638.0 377.9 L638.5 377.9 L639.0 378.0 L639.5 378.0 L640.0 378.1 L640.5 378.2 L641.0 378.3 L641.5 378.4 L642.0 378.1 L642.5 377.9 L643.0 377.9 L643.5 377.9 L644.0 378.2 L644.5 378.4 L645.0 378.3 L645.5 378.2 L646.0 378.1 L646.5 377.9 L647.0 378.0 L647.5 378.2 L648.0 378.3 L648.5 378.4 L649.0 378.4 L649.5 378.2 L650.0 377.9 L650.5 378.0 L651.0 378.2 L651.5 378.2 L652.0 378.2 L652.5 378.2 L653.0 378.1 L653.5 378.3 L654.0 378.4 L654.5 378.3 L655.0 378.1 L655.5 378.1 L656.0 378.0 L656.5 378.0 L657.0 378.2 L657.5 378.1 L658.0 378.0 L658.5 378.1 L659.0 378.1 L659.5 378.1 L660.0 378.2 L660.5 378.1 L661.0 377.8 L661.5 377.7 L662.0 377.9 L662.5 378.0 L663.0 377.9 L663.5 378.1 L664.0 378.2 L664.5 378.4 L665.0 378.7 L665.5 378.4 L666.0 378.0 L666.5 378.1 L667.0 378.2 L667.5 378.2 L668.0 378.1 L668.5 378.0 L669.0 378.0 L669.5 378.2 L670.0 378.4 L670.5 378.3 L671.0 378.3 L671.5 378.2 L672.0 378.2 L672.5 378.0 L673.0 378.0 L673.5 377.9 L674.0 377.8 L674.5 377.8 L675.0 378.0 L675.5 378.3 L676.0 378.1 L676.5 377.8 L677.0 377.7 L677.5 377.8 L678.0 377.8 L678.5 377.9 L679.0 377.8" fill="none" stroke="#111" stroke-width="1.8" stroke-linejoin="round"/>
<path d="M380.5 391.5 L381.0 391.7 L381.5 391.5 L382.0 391.4 L382.5 391.7 L383.0 391.9 L383.5 391.9 L384.0 391.7 L384.5 391.5 L385.0 391.5 L385.5 391.7 L386.0 391.8 L386.5 391.9 L387.0 391.8 L387.5 391.6 L388.0 391.3 L388.5 391.4 L389.0 391.7 L389.5 391.6 L390.0 391.5 L390.5 391.4 L391.0 391.4 L391.5 391.3 L392.0 391.2 L392.5 391.5 L393.0 391.6 L393.5 391.3 L394.0 391.1 L394.5 391.2 L395.0 391.4 L395.5 391.5 L396.0 391.4 L396.5 391.2 L397.0 391.4 L397.5 391.7 L398.0 391.5 L398.5 391.3 L399.0 391.3 L399.5 391.3 L400.0 391.4 L400.5 391.3 L401.0 391.5 L401.5 391.7 L402.0 391.6 L402.5 391.4 L403.0 391.3 L403.5 391.4 L404.0 391.5 L404.5 391.5 L405.0 391.4 L405.5 391.4 L406.0 391.2 L406.5 391.3 L407.0 391.5 L407.5 391.5 L408.0 391.6 L408.5 391.6 L409.0 391.3 L409.5 391.1 L410.0 391.3 L410.5 391.3 L411.0 391.1 L411.5 391.1 L412.0 391.2 L412.5 391.1 L413.0 391.3 L413.5 391.5 L414.0 391.3 L414.5 391.0 L415.0 390.9 L415.5 390.9 L416.0 391.1 L416.5 391.3 L417.0 391.1 L417.5 390.7 L418.0 390.7 L418.5 390.9 L419.0 390.7 L419.5 390.5 L420.0 390.7 L420.5 390.8 L421.0 390.6 L421.5 390.5 L422.0 390.3 L422.5 389.9 L423.0 389.8 L423.5 390.1 L424.0 390.1 L424.5 389.7 L425.0 389.7 L425.5 389.9 L426.0 389.9 L426.5 389.9 L427.0 389.8 L427.5 389.6 L428.0 389.7 L428.5 390.0 L429.0 390.2 L429.5 390.3 L430.0 390.3 L430.5 390.3 L431.0 390.4 L431.5 390.5 L432.0 390.5 L432.5 390.6 L433.0 390.8 L433.5 390.9 L434.0 390.8 L434.5 390.6 L435.0 390.8 L435.5 390.8 L436.0 390.5 L436.5 390.5 L437.0 390.3 L437.5 390.1 L438.0 390.0 L438.5 390.0 L439.0 390.2 L439.5 390.1 L440.0 389.8 L440.5 389.5 L441.0 389.5 L441.5 389.5 L442.0 389.5 L442.5 389.4 L443.0 389.4 L443.5 389.4 L444.0 389.4 L444.5 389.8 L445.0 390.2 L445.5 390.2 L446.0 390.1 L446.5 390.1 L447.0 390.2 L447.5 390.1 L448.0 390.1 L448.5 390.4 L449.0 390.5 L449.5 390.6 L450.0 390.6 L450.5 390.4 L451.0 390.7 L451.5 391.0 L452.0 390.7 L452.5 390.6 L453.0 390.9 L453.5 391.0 L454.0 391.1 L454.5 391.0 L455.0 390.8 L455.5 390.7 L456.0 390.8 L456.5 391.1 L457.0 390.9 L457.5 390.7 L458.0 390.8 L458.5 391.1 L459.0 391.2 L459.5 391.0 L460.0 391.1 L460.5 391.3 L461.0 391.4 L461.5 391.2 L462.0 391.2 L462.5 391.2 L463.0 390.9 L463.5 390.9 L464.0 391.0 L464.5 390.9 L465.0 391.0 L465.5 391.2 L466.0 391.4 L466.5 391.3 L467.0 391.0 L467.5 391.0 L468.0 391.1 L468.5 390.9 L469.0 390.8 L469.5 390.8 L470.0 390.8 L470.5 390.9 L471.0 390.9 L471.5 391.0 L472.0 391.4 L472.5 391.3 L473.0 390.9 L473.5 390.8 L474.0 390.8 L474.5 390.9 L475.0 391.3 L475.5 391.4 L476.0 391.2 L476.5 391.0 L477.0 391.1 L477.5 391.2 L478.0 391.1 L478.5 391.3 L479.0 391.3 L479.5 391.1 L480.0 390.9 L480.5 391.0 L481.0 391.2 L481.5 391.0 L482.0 390.7 L482.5 390.9 L483.0 391.0 L483.5 390.7 L484.0 390.7 L484.5 391.0 L485.0 390.9 L485.5 390.7 L486.0 390.9 L486.5 390.9 L487.0 390.8 L487.5 390.7 L488.0 390.9 L488.5 391.1 L489.0 391.3 L489.5 391.3 L490.0 391.0 L490.5 390.8 L491.0 390.6 L491.5 390.5 L492.0 390.6 L492.5 390.7 L493.0 390.7 L493.5 391.0 L494.0 390.9 L494.5 390.6 L495.0 390.7 L495.5 390.8 L496.0 390.6 L496.5 390.7 L497.0 391.0 L497.5 391.1 L498.0 391.0 L498.5 390.6 L499.0 390.4 L499.5 390.6 L500.0 390.8 L500.5 391.0 L501.0 391.0 L501.5 390.5 L502.0 390.4 L502.5 390.7 L503.0 390.8 L503.5 390.7 L504.0 390.6 L504.5 390.3 L505.0 390.2 L505.5 390.5 L506.0 390.4 L506.5 390.2 L507.0 390.4 L507.5 390.5 L508.0 390.3 L508.5 390.2 L509.0 390.2 L509.5 390.1 L510.0 390.0 L510.5 389.8 L511.0 389.7 L511.5 389.6 L512.0 389.4 L512.5 389.3 L513.0 389.3 L513.5 389.3 L514.0 389.1 L514.5 388.9 L515.0 389.0 L515.5 389.0 L516.0 388.7 L516.5 388.3 L517.0 388.2 L517.5 388.3 L518.0 388.3 L518.5 388.1 L519.0 387.9 L519.5 387.7 L520.0 387.4 L520.5 387.3 L521.0 387.3 L521.5 387.2 L522.0 387.2 L522.5 387.0 L523.0 386.4 L523.5 385.9 L524.0 385.7 L524.5 385.7 L525.0 385.4 L525.5 385.1 L526.0 385.0 L526.5 384.9 L527.0 384.7 L527.5 384.1 L528.0 383.5 L528.5 383.0 L529.0 382.6 L529.5 382.1 L530.0 381.7 L530.5 381.3 L531.0 380.7 L531.5 380.3 L532.0 379.9 L532.5 379.6 L533.0 379.4 L533.5 379.2 L534.0 379.0 L534.5 379.0 L535.0 379.1 L535.5 379.2 L536.0 379.3 L536.5 379.4 L537.0 379.8 L537.5 380.4 L538.0 380.7 L538.5 380.8 L539.0 380.8 L539.5 380.8 L540.0 380.9 L540.5 381.0 L541.0 381.1 L541.5 381.2 L542.0 381.2 L542.5 381.1 L543.0 380.9 L543.5 381.1 L544.0 381.3 L544.5 381.3 L545.0 381.5 L545.5 381.6 L546.0 381.4 L546.5 381.0 L547.0 380.8 L547.5 380.6 L548.0 380.5 L548.5 380.4 L549.0 380.2 L549.5 379.7 L550.0 379.2 L550.5 379.0 L551.0 378.8 L551.5 378.6 L552.0 378.3 L552.5 378.1 L553.0 378.0 L553.5 377.8 L554.0 377.7 L554.5 377.6 L555.0 377.6 L555.5 377.7 L556.0 377.8 L556.5 377.8 L557.0 377.8 L557.5 378.2 L558.0 378.4 L558.5 378.4 L559.0 378.5 L559.5 378.5 L560.0 378.8 L560.5 378.9 L561.0 379.1 L561.5 379.3 L562.0 379.4 L562.5 379.6 L563.0 380.1 L563.5 380.4 L564.0 380.6 L564.5 380.9 L565.0 381.2 L565.5 381.4 L566.0 381.6 L566.5 381.9 L567.0 382.2 L567.5 382.5 L568.0 382.7 L568.5 383.1 L569.0 383.4 L569.5 383.5 L570.0 383.6 L570.5 383.8 L571.0 384.3 L571.5 384.6 L572.0 384.6 L572.5 384.6 L573.0 384.9 L573.5 385.2 L574.0 385.5 L574.5 385.7 L575.0 385.8 L575.5 385.9 L576.0 386.2 L576.5 386.5 L577.0 386.6 L577.5 386.8 L578.0 387.0 L578.5 387.2 L579.0 387.5 L579.5 387.8 L580.0 387.9 L580.5 387.8 L581.0 387.8 L581.5 387.9 L582.0 388.1 L582.5 388.1 L583.0 388.0 L583.5 387.8 L584.0 387.8 L584.5 388.1 L585.0 388.2 L585.5 388.2 L586.0 388.1 L586.5 388.2 L587.0 388.3 L587.5 388.2 L588.0 388.2 L588.5 388.3 L589.0 388.3 L589.5 388.2 L590.0 388.2 L590.5 388.3 L591.0 388.4 L591.5 388.6 L592.0 388.6 L592.5 388.6 L593.0 388.9 L593.5 388.9 L594.0 388.9 L594.5 388.7 L595.0 388.3 L595.5 388.3 L596.0 388.6 L596.5 388.8 L597.0 388.7 L597.5 388.4 L598.0 388.5 L598.5 388.9 L599.0 389.0 L599.5 388.9 L600.0 388.6 L600.5 388.6 L601.0 388.7 L601.5 388.9 L602.0 389.1 L602.5 389.3 L603.0 389.1 L603.5 388.8 L604.0 388.6 L604.5 388.6 L605.0 388.8 L605.5 388.9 L606.0 388.8 L606.5 389.0 L607.0 389.1 L607.5 389.1 L608.0 389.1 L608.5 388.9 L609.0 389.0 L609.5 389.2 L610.0 389.3 L610.5 389.2 L611.0 389.0 L611.5 388.8 L612.0 389.0 L612.5 389.0 L613.0 389.0 L613.5 389.2 L614.0 389.0 L614.5 389.2 L615.0 389.6 L615.5 389.6 L616.0 389.3 L616.5 389.2 L617.0 389.3 L617.5 389.4 L618.0 389.4 L618.5 389.4 L619.0 389.3 L619.5 389.5 L620.0 389.7 L620.5 389.6 L621.0 389.4 L621.5 389.2 L622.0 389.2 L622.5 389.5 L623.0 389.6 L623.5 389.4 L624.0 389.2 L624.5 389.2 L625.0 389.5 L625.5 389.8 L626.0 389.9 L626.5 389.6 L627.0 389.1 L627.5 389.0 L628.0 389.3 L628.5 389.6 L629.0 389.7 L629.5 389.5 L630.0 389.5 L630.5 389.5 L631.0 389.5 L631.5 389.4 L632.0 389.3 L632.5 389.3 L633.0 389.3 L633.5 389.2 L634.0 389.3 L634.5 389.3 L635.0 389.3 L635.5 389.3 L636.0 389.3 L636.5 389.5 L637.0 389.6 L637.5 389.6 L638.0 389.5 L638.5 389.3 L639.0 389.3 L639.5 389.3 L640.0 389.2 L640.5 389.3 L641.0 389.4 L641.5 389.4 L642.0 389.7 L642.5 389.9 L643.0 389.6 L643.5 389.6 L644.0 389.7 L644.5 389.7 L645.0 389.5 L645.5 389.6 L646.0 389.8 L646.5 389.7 L647.0 389.4 L647.5 389.1 L648.0 389.0 L648.5 389.3 L649.0 389.5 L649.5 389.5 L650.0 389.5 L650.5 389.6 L651.0 389.6 L651.5 389.5 L652.0 389.5 L652.5 389.4 L653.0 389.4 L653.5 389.5 L654.0 389.6 L654.5 389.6 L655.0 389.7 L655.5 389.9 L656.0 389.7 L656.5 389.3 L657.0 389.3 L657.5 389.4 L658.0 389.5 L658.5 389.7 L659.0 389.8 L659.5 389.8 L660.0 389.8 L660.5 389.6 L661.0 389.2 L661.5 389.0 L662.0 389.2 L662.5 389.5 L663.0 389.7 L663.5 389.9 L664.0 389.9 L664.5 389.7 L665.0 389.4 L665.5 389.5 L666.0 389.5 L666.5 389.3 L667.0 389.4 L667.5 389.8 L668.0 389.8 L668.5 389.3 L669.0 389.2 L669.5 389.1 L670.0 388.9 L670.5 389.2 L671.0 389.5 L671.5 389.5 L672.0 389.6 L672.5 389.5 L673.0 389.3 L673.5 389.4 L674.0 389.6 L674.5 389.5 L675.0 389.2 L675.5 389.1 L676.0 389.3 L676.5 389.4 L677.0 389.4 L677.5 389.3 L678.0 389.3 L678.5 389.2 L679.0 389.2" fill="none" stroke="#111" stroke-width="1.8" stroke-linejoin="round"/>
<path d="M380.5 198.1 L381.0 198.1 L381.5 198.1 L382.0 198.3 L382.5 198.5 L383.0 198.7 L383.5 198.7 L384.0 198.3 L384.5 198.2 L385.0 198.1 L385.5 198.1 L386.0 198.5 L386.5 198.5 L387.0 198.4 L387.5 198.6 L388.0 198.6 L388.5 198.4 L389.0 198.1 L389.5 197.9 L390.0 198.1 L390.5 198.1 L391.0 198.0 L391.5 198.3 L392.0 198.3 L392.5 198.2 L393.0 198.2 L393.5 198.3 L394.0 198.3 L394.5 198.3 L395.0 198.4 L395.5 198.4 L396.0 198.4 L396.5 198.3 L397.0 198.3 L397.5 198.4 L398.0 198.3 L398.5 198.3 L399.0 198.4 L399.5 198.4 L400.0 198.2 L400.5 197.8 L401.0 197.7 L401.5 197.7 L402.0 197.9 L402.5 198.1 L403.0 198.1 L403.5 198.1 L404.0 198.1 L404.5 198.0 L405.0 198.1 L405.5 198.3 L406.0 198.5 L406.5 198.2 L407.0 198.1 L407.5 198.0 L408.0 198.0 L408.5 198.1 L409.0 198.1 L409.5 198.2 L410.0 198.0 L410.5 198.0 L411.0 198.2 L411.5 198.1 L412.0 197.8 L412.5 197.6 L413.0 197.7 L413.5 197.9 L414.0 197.9 L414.5 197.8 L415.0 197.7 L415.5 197.7 L416.0 197.8 L416.5 197.8 L417.0 197.8 L417.5 197.7 L418.0 197.2 L418.5 196.8 L419.0 196.4 L419.5 195.9 L420.0 195.4 L420.5 195.2 L421.0 195.0 L421.5 194.7 L422.0 194.2 L422.5 193.4 L423.0 192.6 L423.5 191.7 L424.0 190.8 L424.5 190.4 L425.0 190.3 L425.5 189.9 L426.0 189.4 L426.5 189.2 L427.0 189.2 L427.5 189.2 L428.0 189.2 L428.5 189.2 L429.0 189.6 L429.5 190.2 L430.0 190.7 L430.5 191.1 L431.0 191.6 L431.5 192.0 L432.0 192.1 L432.5 192.3 L433.0 192.3 L433.5 192.3 L434.0 192.4 L434.5 192.2 L435.0 192.0 L435.5 191.8 L436.0 191.5 L436.5 191.1 L437.0 190.5 L437.5 189.6 L438.0 187.9 L438.5 185.6 L439.0 183.2 L439.5 180.2 L440.0 177.2 L440.5 176.2 L441.0 175.7 L441.5 175.5 L442.0 175.7 L442.5 176.3 L443.0 177.0 L443.5 178.4 L444.0 180.4 L444.5 182.7 L445.0 185.3 L445.5 187.3 L446.0 188.1 L446.5 188.9 L447.0 189.5 L447.5 189.9 L448.0 190.3 L448.5 190.6 L449.0 190.9 L449.5 191.3 L450.0 191.7 L450.5 191.8 L451.0 192.1 L451.5 192.5 L452.0 192.6 L452.5 192.8 L453.0 193.2 L453.5 193.4 L454.0 193.5 L454.5 193.8 L455.0 194.2 L455.5 194.5 L456.0 194.6 L456.5 194.8 L457.0 195.0 L457.5 194.9 L458.0 194.8 L458.5 194.8 L459.0 194.8 L459.5 195.0 L460.0 195.3 L460.5 195.6 L461.0 195.8 L461.5 195.8 L462.0 195.8 L462.5 195.8 L463.0 196.0 L463.5 196.3 L464.0 196.5 L464.5 196.5 L465.0 196.5 L465.5 196.5 L466.0 196.5 L466.5 196.6 L467.0 196.8 L467.5 197.0 L468.0 197.0 L468.5 197.2 L469.0 197.3 L469.5 197.3 L470.0 197.2 L470.5 197.0 L471.0 197.1 L471.5 197.3 L472.0 197.5 L472.5 197.4 L473.0 197.3 L473.5 197.4 L474.0 197.5 L474.5 197.6 L475.0 197.5 L475.5 197.4 L476.0 197.4 L476.5 197.5 L477.0 197.6 L477.5 197.5 L478.0 197.6 L478.5 197.8 L479.0 197.8 L479.5 197.6 L480.0 197.5 L480.5 197.5 L481.0 197.6 L481.5 197.7 L482.0 197.6 L482.5 197.5 L483.0 197.7 L483.5 197.8 L484.0 197.6 L484.5 197.3 L485.0 197.3 L485.5 197.6 L486.0 197.5 L486.5 197.3 L487.0 197.5 L487.5 197.7 L488.0 197.5 L488.5 197.1 L489.0 197.2 L489.5 197.4 L490.0 197.3 L490.5 197.0 L491.0 196.8 L491.5 196.9 L492.0 196.9 L492.5 196.7 L493.0 196.8 L493.5 197.0 L494.0 197.0 L494.5 196.8 L495.0 196.7 L495.5 196.5 L496.0 196.2 L496.5 196.0 L497.0 195.8 L497.5 195.7 L498.0 195.8 L498.5 195.9 L499.0 195.7 L499.5 195.3 L500.0 194.8 L500.5 194.4 L501.0 193.8 L501.5 193.2 L502.0 192.7 L502.5 192.1 L503.0 191.7 L503.5 191.2 L504.0 190.2 L504.5 189.2 L505.0 188.3 L505.5 187.4 L506.0 186.7 L506.5 185.9 L507.0 185.1 L507.5 184.2 L508.0 183.3 L508.5 182.4 L509.0 181.2 L509.5 179.8 L510.0 178.6 L510.5 177.6 L511.0 176.1 L511.5 174.6 L512.0 173.1 L512.5 171.2 L513.0 169.6 L513.5 168.2 L514.0 166.6 L514.5 164.9 L515.0 163.2 L515.5 161.7 L516.0 159.8 L516.5 157.7 L517.0 155.8 L517.5 154.3 L518.0 152.9 L518.5 151.5 L519.0 149.8 L519.5 148.0 L520.0 146.6 L520.5 145.2 L521.0 143.8 L521.5 142.3 L522.0 140.9 L522.5 139.4 L523.0 137.7 L523.5 136.2 L524.0 134.5 L524.5 132.1 L525.0 129.3 L525.5 125.5 L526.0 119.3 L526.5 111.9 L527.0 104.4 L527.5 97.8 L528.0 90.9 L528.5 83.9 L529.0 77.4 L529.5 72.1 L530.0 67.3 L530.5 62.1 L531.0 57.7 L531.5 55.3 L532.0 55.3 L532.5 57.5 L533.0 61.1 L533.5 65.7 L534.0 70.7 L534.5 75.1 L535.0 79.0 L535.5 83.5 L536.0 88.2 L536.5 93.1 L537.0 98.1 L537.5 103.0 L538.0 107.7 L538.5 111.8 L539.0 115.6 L539.5 119.3 L540.0 122.4 L540.5 124.7 L541.0 126.6 L541.5 128.3 L542.0 129.4 L542.5 129.7 L543.0 128.8 L543.5 127.3 L544.0 125.4 L544.5 123.0 L545.0 120.4 L545.5 117.6 L546.0 115.0 L546.5 112.5 L547.0 109.6 L547.5 106.4 L548.0 103.6 L548.5 101.4 L549.0 100.0 L549.5 99.0 L550.0 98.3 L550.5 97.6 L551.0 96.8 L551.5 96.5 L552.0 96.8 L552.5 97.2 L553.0 97.6 L553.5 98.1 L554.0 99.2 L554.5 100.5 L555.0 101.8 L555.5 103.4 L556.0 105.3 L556.5 107.8 L557.0 111.0 L557.5 114.7 L558.0 118.2 L558.5 121.6 L559.0 124.9 L559.5 128.4 L560.0 132.1 L560.5 135.7 L561.0 139.0 L561.5 142.1 L562.0 144.7 L562.5 146.9 L563.0 148.8 L563.5 150.6 L564.0 152.4 L564.5 154.0 L565.0 155.5 L565.5 156.9 L566.0 158.3 L566.5 159.9 L567.0 161.3 L567.5 162.7 L568.0 164.2 L568.5 165.7 L569.0 167.4 L569.5 168.9 L570.0 170.1 L570.5 171.4 L571.0 172.8 L571.5 174.1 L572.0 175.3 L572.5 176.3 L573.0 177.3 L573.5 178.1 L574.0 178.8 L574.5 179.7 L575.0 180.8 L575.5 181.6 L576.0 182.4 L576.5 183.4 L577.0 184.0 L577.5 184.4 L578.0 184.9 L578.5 185.6 L579.0 186.2 L579.5 186.8 L580.0 187.3 L580.5 187.9 L581.0 188.6 L581.5 189.0 L582.0 189.3 L582.5 189.7 L583.0 190.1 L583.5 190.5 L584.0 191.1 L584.5 191.4 L585.0 191.6 L585.5 192.1 L586.0 192.4 L586.5 192.6 L587.0 192.9 L587.5 193.2 L588.0 193.4 L588.5 193.5 L589.0 193.7 L589.5 194.1 L590.0 194.3 L590.5 194.3 L591.0 194.4 L591.5 194.6 L592.0 194.7 L592.5 194.9 L593.0 194.7 L593.5 194.5 L594.0 194.9 L594.5 195.1 L595.0 195.1 L595.5 195.0 L596.0 195.0 L596.5 195.2 L597.0 195.3 L597.5 195.4 L598.0 195.4 L598.5 195.4 L599.0 195.5 L599.5 195.6 L600.0 195.4 L600.5 195.4 L601.0 195.3 L601.5 195.3 L602.0 195.4 L602.5 195.4 L603.0 195.1 L603.5 194.8 L604.0 194.9 L604.5 195.3 L605.0 195.3 L605.5 194.3 L606.0 193.2 L606.5 192.7 L607.0 193.6 L607.5 194.9 L608.0 195.7 L608.5 196.0 L609.0 196.4 L609.5 196.4 L610.0 196.1 L610.5 195.9 L611.0 195.8 L611.5 195.7 L612.0 195.8 L612.5 196.0 L613.0 196.3 L613.5 196.2 L614.0 196.1 L614.5 196.1 L615.0 196.1 L615.5 196.1 L616.0 196.3 L616.5 196.3 L617.0 196.3 L617.5 196.2 L618.0 196.1 L618.5 196.1 L619.0 196.1 L619.5 196.1 L620.0 196.1 L620.5 196.2 L621.0 196.1 L621.5 195.9 L622.0 195.9 L622.5 196.0 L623.0 195.8 L623.5 195.7 L624.0 196.1 L624.5 196.1 L625.0 195.7 L625.5 195.7 L626.0 195.9 L626.5 195.8 L627.0 195.8 L627.5 195.9 L628.0 195.9 L628.5 195.8 L629.0 195.6 L629.5 195.5 L630.0 195.7 L630.5 195.8 L631.0 195.9 L631.5 196.1 L632.0 196.2 L632.5 196.0 L633.0 195.9 L633.5 195.8 L634.0 195.6 L634.5 195.6 L635.0 195.5 L635.5 195.6 L636.0 195.7 L636.5 195.6 L637.0 195.4 L637.5 195.6 L638.0 196.0 L638.5 196.1 L639.0 195.9 L639.5 195.7 L640.0 195.4 L640.5 195.5 L641.0 195.6 L641.5 195.5 L642.0 195.4 L642.5 195.5 L643.0 195.8 L643.5 195.9 L644.0 195.7 L644.5 195.7 L645.0 195.6 L645.5 195.6 L646.0 195.6 L646.5 195.7 L647.0 195.9 L647.5 195.9 L648.0 195.7 L648.5 195.7 L649.0 195.6 L649.5 195.7 L650.0 195.8 L650.5 195.9 L651.0 195.8 L651.5 195.5 L652.0 195.3 L652.5 195.4 L653.0 195.4 L653.5 195.5 L654.0 195.7 L654.5 195.6 L655.0 195.3 L655.5 195.4 L656.0 195.4 L656.5 195.4 L657.0 195.4 L657.5 195.3 L658.0 195.4 L658.5 195.4 L659.0 195.2 L659.5 195.2 L660.0 195.3 L660.5 195.5 L661.0 195.5 L661.5 195.3 L662.0 195.1 L662.5 195.1 L663.0 195.2 L663.5 195.3 L664.0 195.5 L664.5 195.6 L665.0 195.5 L665.5 195.2 L666.0 194.9 L666.5 195.0 L667.0 195.2 L667.5 195.1 L668.0 195.1 L668.5 195.3 L669.0 195.4 L669.5 195.3 L670.0 195.4 L670.5 195.5 L671.0 195.4 L671.5 195.2 L672.0 195.0 L672.5 195.0 L673.0 195.2 L673.5 195.3 L674.0 195.2 L674.5 195.2 L675.0 195.3 L675.5 195.5 L676.0 195.4 L676.5 195.2 L677.0 195.1 L677.5 195.1 L678.0 195.3 L678.5 195.2 L679.0 195.2" fill="none" stroke="#ee1c1c" stroke-width="1.6" stroke-linejoin="round"/>
<rect x="380.5" y="1.4" width="299.1" height="397.90000000000003" fill="none" stroke="#3a3a3a" stroke-width="1"/>
<text transform="translate(677.3 83.2) scale(0.94 1)" x="0" y="0" text-anchor="end" font-family="Liberation Sans" font-size="11.8" stroke="#000" stroke-width="0.15">L<tspan font-size="8.8" dy="2.2">3</tspan><tspan dy="-2.2">-0.6</tspan></text>
<text transform="translate(677.3 99.60000000000001) scale(0.94 1)" x="0" y="0" text-anchor="end" font-family="Liberation Sans" font-size="11.8" stroke="#000" stroke-width="0.15">L<tspan font-size="8.8" dy="2.2">3</tspan><tspan dy="-2.2">-0.4</tspan></text>
<text transform="translate(677.3 122.4) scale(0.94 1)" x="0" y="0" text-anchor="end" font-family="Liberation Sans" font-size="11.8" stroke="#000" stroke-width="0.15">L<tspan font-size="8.8" dy="2.2">3</tspan><tspan dy="-2.2">-0.2</tspan></text>
<text transform="translate(676.0 188.6) scale(0.94 1)" x="0" y="0" text-anchor="end" font-family="Liberation Sans" font-size="11.8" stroke="#000" stroke-width="0.15">L<tspan font-size="8.8" dy="2.2">3</tspan><tspan dy="-2.2"></tspan></text>
<text transform="translate(677.3 277.09999999999997) scale(0.94 1)" x="0" y="0" text-anchor="end" font-family="Liberation Sans" font-size="11.8" stroke="#000" stroke-width="0.15">L<tspan font-size="8.8" dy="2.2">3</tspan><tspan dy="-2.2">+0.2</tspan></text>
<text transform="translate(677.3 294.9) scale(0.94 1)" x="0" y="0" text-anchor="end" font-family="Liberation Sans" font-size="11.8" stroke="#000" stroke-width="0.15">L<tspan font-size="8.8" dy="2.2">3</tspan><tspan dy="-2.2">+0.4</tspan></text>
<text transform="translate(677.3 312.2) scale(0.94 1)" x="0" y="0" text-anchor="end" font-family="Liberation Sans" font-size="11.8" stroke="#000" stroke-width="0.15">L<tspan font-size="8.8" dy="2.2">3</tspan><tspan dy="-2.2">+0.6</tspan></text>
<text transform="translate(677.3 328.9) scale(0.94 1)" x="0" y="0" text-anchor="end" font-family="Liberation Sans" font-size="11.8" stroke="#000" stroke-width="0.15">L<tspan font-size="8.8" dy="2.2">3</tspan><tspan dy="-2.2">+0.8</tspan></text>
<text transform="translate(677.3 343.4) scale(0.94 1)" x="0" y="0" text-anchor="end" font-family="Liberation Sans" font-size="11.8" stroke="#000" stroke-width="0.15">L<tspan font-size="8.8" dy="2.2">3</tspan><tspan dy="-2.2">+1</tspan></text>
<text transform="translate(677.3 357.7) scale(0.94 1)" x="0" y="0" text-anchor="end" font-family="Liberation Sans" font-size="11.8" stroke="#000" stroke-width="0.15">L<tspan font-size="8.8" dy="2.2">3</tspan><tspan dy="-2.2">+1.2</tspan></text>
<text transform="translate(677.3 374.7) scale(0.94 1)" x="0" y="0" text-anchor="end" font-family="Liberation Sans" font-size="11.8" stroke="#000" stroke-width="0.15">L<tspan font-size="8.8" dy="2.2">3</tspan><tspan dy="-2.2">+1.4</tspan></text>
<text transform="translate(677.3 387.7) scale(0.94 1)" x="0" y="0" text-anchor="end" font-family="Liberation Sans" font-size="11.8" stroke="#000" stroke-width="0.15">L<tspan font-size="8.8" dy="2.2">3</tspan><tspan dy="-2.2">+1.6</tspan></text>
<text x="425.1" y="420" text-anchor="middle" font-family="Liberation Sans" font-size="18.4" stroke="#000" stroke-width="0.25">0</text>
<path d="M488.2 405.9 H490.2 V419.8 H488.2 V409.9 C487.2 410.4 485.9 410.6 484.6 410.6 V408.8 C486.4 408.7 487.7 407.7 488.2 405.9 Z" fill="#000"/>
<text x="552.1" y="420" text-anchor="middle" font-family="Liberation Sans" font-size="18.4" stroke="#000" stroke-width="0.25">2</text>
<text x="615.6" y="420" text-anchor="middle" font-family="Liberation Sans" font-size="18.4" stroke="#000" stroke-width="0.25">3</text>
<text x="679.1" y="420" text-anchor="middle" font-family="Liberation Sans" font-size="18.4" stroke="#000" stroke-width="0.25">4</text>
<text x="533.5" y="442" text-anchor="middle" font-family="Liberation Sans" font-size="19.7" stroke="#000" stroke-width="0.2">Energy loss (eV)</text>
<text transform="translate(364.6 198.7) rotate(-90)" text-anchor="middle" font-family="Liberation Sans" font-size="19.75" stroke="#000" stroke-width="0.2">Intensity (arb. units)</text>
<text x="385.8" y="39.8" font-family="Liberation Sans" font-weight="bold" font-size="23.6" stroke="#000" stroke-width="0.35">b</text>
</svg>
</body></html>
